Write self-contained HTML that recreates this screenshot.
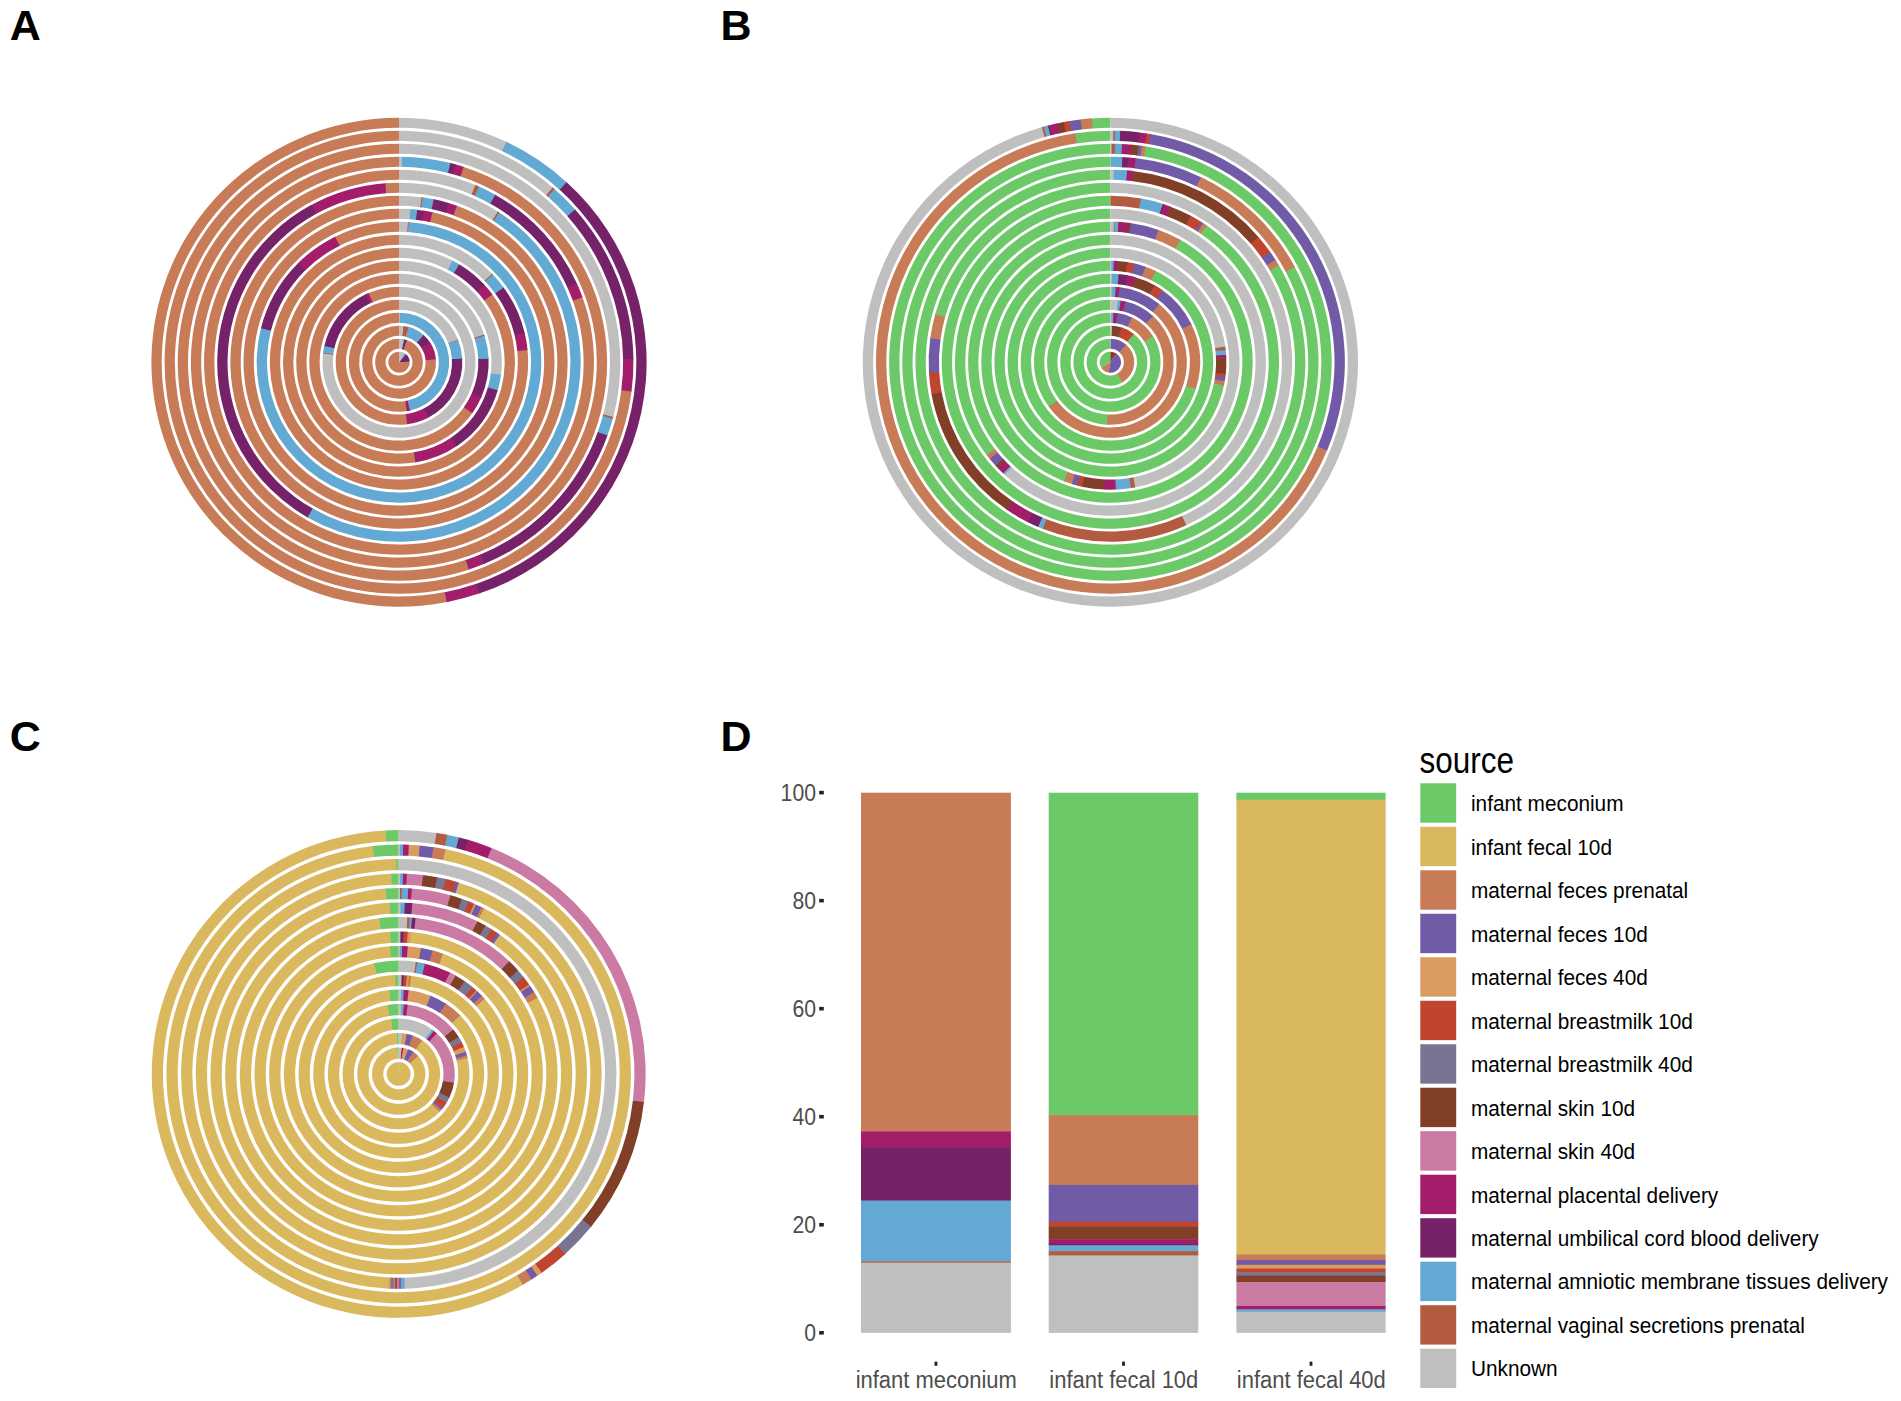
<!DOCTYPE html>
<html><head><meta charset="utf-8"><title>Figure</title>
<style>html,body{margin:0;padding:0;background:#fff}svg{display:block}</style></head>
<body><svg width="1901" height="1401" viewBox="0 0 1901 1401">
<rect width="1901" height="1401" fill="#fff"/>
<g transform="translate(399.0,362.2) scale(1.0125,1)">
<path d="M10.54,-0.46A10.55,10.55 0 1 1 -0.00,-10.55L0,0Z" fill="#c87b57" fill-rule="evenodd"/>
<path d="M6.71,-8.14A10.55,10.55 0 0 1 10.54,-0.37L0,0Z" fill="#762268" fill-rule="evenodd"/>
<path d="M5.20,-9.18A10.55,10.55 0 0 1 6.78,-8.08L0,0Z" fill="#62aad3" fill-rule="evenodd"/>
<path d="M0.00,-10.55A10.55,10.55 0 0 1 5.27,-9.14L0,0Z" fill="#bfbfbf" fill-rule="evenodd"/>
<path d="M7.74,-22.24A23.55,23.55 0 1 1 -0.00,-23.55L-0.00,-13.35A13.35,13.35 0 1 0 4.39,-12.61Z" fill="#c87b57" fill-rule="evenodd"/>
<path d="M4.90,-23.04A23.55,23.55 0 0 1 7.94,-22.17L4.50,-12.57A13.35,13.35 0 0 0 2.78,-13.06Z" fill="#762268" fill-rule="evenodd"/>
<path d="M4.13,-23.19A23.55,23.55 0 0 1 5.10,-22.99L2.89,-13.03A13.35,13.35 0 0 0 2.34,-13.14Z" fill="#62aad3" fill-rule="evenodd"/>
<path d="M0.00,-23.55A23.55,23.55 0 0 1 4.33,-23.15L2.46,-13.12A13.35,13.35 0 0 0 0.00,-13.35Z" fill="#bfbfbf" fill-rule="evenodd"/>
<path d="M36.43,-2.99A36.55,36.55 0 1 1 -0.00,-36.55L-0.00,-26.35A26.35,26.35 0 1 0 26.26,-2.16Z" fill="#c87b57" fill-rule="evenodd"/>
<path d="M30.86,-19.58A36.55,36.55 0 0 1 36.45,-2.68L26.28,-1.93A26.35,26.35 0 0 0 22.25,-14.12Z" fill="#a31d6a" fill-rule="evenodd"/>
<path d="M24.08,-27.50A36.55,36.55 0 0 1 31.03,-19.31L22.37,-13.92A26.35,26.35 0 0 0 17.36,-19.83Z" fill="#762268" fill-rule="evenodd"/>
<path d="M9.09,-35.40A36.55,36.55 0 0 1 24.31,-27.29L17.53,-19.67A26.35,26.35 0 0 0 6.55,-25.52Z" fill="#62aad3" fill-rule="evenodd"/>
<path d="M4.07,-36.32A36.55,36.55 0 0 1 9.40,-35.32L6.78,-25.46A26.35,26.35 0 0 0 2.94,-26.19Z" fill="#b25b40" fill-rule="evenodd"/>
<path d="M0.00,-36.55A36.55,36.55 0 0 1 4.39,-36.29L3.17,-26.16A26.35,26.35 0 0 0 0.00,-26.35Z" fill="#bfbfbf" fill-rule="evenodd"/>
<path d="M8.09,48.88A49.55,49.55 0 1 1 -0.00,-49.55L-0.00,-39.35A39.35,39.35 0 1 0 6.43,38.82Z" fill="#c87b57" fill-rule="evenodd"/>
<path d="M11.31,48.24A49.55,49.55 0 0 1 7.67,48.95L6.09,38.88A39.35,39.35 0 0 0 8.99,38.31Z" fill="#a31d6a" fill-rule="evenodd"/>
<path d="M0.26,-49.55A49.55,49.55 0 0 1 10.89,48.34L8.65,38.39A39.35,39.35 0 0 0 0.21,-39.35Z" fill="#62aad3" fill-rule="evenodd"/>
<path d="M0.00,-49.55A49.55,49.55 0 0 1 0.69,-49.55L0.55,-39.35A39.35,39.35 0 0 0 0.00,-39.35Z" fill="#bfbfbf" fill-rule="evenodd"/>
<path d="M8.60,61.96A62.55,62.55 0 1 1 -0.00,-62.55L-0.00,-52.35A52.35,52.35 0 1 0 7.20,51.85Z" fill="#c87b57" fill-rule="evenodd"/>
<path d="M29.75,55.02A62.55,62.55 0 0 1 8.06,62.03L6.74,51.91A52.35,52.35 0 0 0 24.90,46.05Z" fill="#a31d6a" fill-rule="evenodd"/>
<path d="M62.41,-4.25A62.55,62.55 0 0 1 29.27,55.28L24.50,46.27A52.35,52.35 0 0 0 52.23,-3.56Z" fill="#762268" fill-rule="evenodd"/>
<path d="M58.24,-22.82A62.55,62.55 0 0 1 62.44,-3.71L52.26,-3.10A52.35,52.35 0 0 0 48.74,-19.10Z" fill="#62aad3" fill-rule="evenodd"/>
<path d="M58.04,-23.33A62.55,62.55 0 0 1 58.43,-22.31L48.91,-18.68A52.35,52.35 0 0 0 48.57,-19.53Z" fill="#b25b40" fill-rule="evenodd"/>
<path d="M0.00,-62.55A62.55,62.55 0 0 1 58.24,-22.82L48.74,-19.10A52.35,52.35 0 0 0 0.00,-52.35Z" fill="#bfbfbf" fill-rule="evenodd"/>
<path d="M-30.71,-69.02A75.55,75.55 0 0 1 -0.00,-75.55L-0.00,-65.35A65.35,65.35 0 0 0 -26.57,-59.71Z" fill="#c87b57" fill-rule="evenodd"/>
<path d="M-33.46,-67.74A75.55,75.55 0 0 1 -30.13,-69.28L-26.06,-59.93A65.35,65.35 0 0 0 -28.94,-58.59Z" fill="#a31d6a" fill-rule="evenodd"/>
<path d="M-73.95,-15.47A75.55,75.55 0 0 1 -32.88,-68.02L-28.44,-58.84A65.35,65.35 0 0 0 -63.97,-13.38Z" fill="#762268" fill-rule="evenodd"/>
<path d="M-75.03,-8.83A75.55,75.55 0 0 1 -73.82,-16.09L-63.85,-13.92A65.35,65.35 0 0 0 -64.90,-7.64Z" fill="#62aad3" fill-rule="evenodd"/>
<path d="M-75.12,-8.04A75.55,75.55 0 0 1 -74.95,-9.47L-64.83,-8.19A65.35,65.35 0 0 0 -64.98,-6.96Z" fill="#b25b40" fill-rule="evenodd"/>
<path d="M0.00,-75.55A75.55,75.55 0 1 1 -75.05,-8.68L-64.92,-7.51A65.35,65.35 0 1 0 0.00,-65.35Z" fill="#bfbfbf" fill-rule="evenodd"/>
<path d="M72.72,50.52A88.55,88.55 0 1 1 -0.00,-88.55L-0.00,-78.35A78.35,78.35 0 1 0 64.35,44.70Z" fill="#c87b57" fill-rule="evenodd"/>
<path d="M81.46,34.72A88.55,88.55 0 0 1 72.36,51.04L64.02,45.16A78.35,78.35 0 0 0 72.07,30.72Z" fill="#a31d6a" fill-rule="evenodd"/>
<path d="M88.45,-4.19A88.55,88.55 0 0 1 81.21,35.31L71.85,31.24A78.35,78.35 0 0 0 78.26,-3.71Z" fill="#762268" fill-rule="evenodd"/>
<path d="M84.31,-27.09A88.55,88.55 0 0 1 88.48,-3.55L78.29,-3.14A78.35,78.35 0 0 0 74.59,-23.97Z" fill="#62aad3" fill-rule="evenodd"/>
<path d="M83.92,-28.26A88.55,88.55 0 0 1 84.50,-26.48L74.76,-23.43A78.35,78.35 0 0 0 74.25,-25.01Z" fill="#b25b40" fill-rule="evenodd"/>
<path d="M0.00,-88.55A88.55,88.55 0 0 1 84.12,-27.66L74.43,-24.47A78.35,78.35 0 0 0 0.00,-78.35Z" fill="#bfbfbf" fill-rule="evenodd"/>
<path d="M16.86,100.14A101.55,101.55 0 1 1 -0.00,-101.55L-0.00,-91.35A91.35,91.35 0 1 0 15.17,90.08Z" fill="#c87b57" fill-rule="evenodd"/>
<path d="M57.60,83.63A101.55,101.55 0 0 1 16.24,100.24L14.61,90.17A91.35,91.35 0 0 0 51.82,75.23Z" fill="#a31d6a" fill-rule="evenodd"/>
<path d="M97.79,27.38A101.55,101.55 0 0 1 57.08,83.99L51.35,75.55A91.35,91.35 0 0 0 87.97,24.63Z" fill="#762268" fill-rule="evenodd"/>
<path d="M100.85,11.92A101.55,101.55 0 0 1 97.62,27.99L87.81,25.18A91.35,91.35 0 0 0 90.72,10.73Z" fill="#62aad3" fill-rule="evenodd"/>
<path d="M0.00,-101.55A101.55,101.55 0 0 1 100.77,12.55L90.65,11.29A91.35,91.35 0 0 0 0.00,-91.35Z" fill="#bfbfbf" fill-rule="evenodd"/>
<path d="M91.95,-68.32A114.55,114.55 0 1 1 -0.00,-114.55L-0.00,-104.35A104.35,104.35 0 1 0 83.76,-62.24Z" fill="#c87b57" fill-rule="evenodd"/>
<path d="M84.30,-77.56A114.55,114.55 0 0 1 92.32,-67.82L84.10,-61.78A104.35,104.35 0 0 0 76.79,-70.65Z" fill="#a31d6a" fill-rule="evenodd"/>
<path d="M58.97,-98.20A114.55,114.55 0 0 1 84.72,-77.09L77.18,-70.23A104.35,104.35 0 0 0 53.72,-89.46Z" fill="#762268" fill-rule="evenodd"/>
<path d="M52.34,-101.90A114.55,114.55 0 0 1 59.51,-97.88L54.21,-89.16A104.35,104.35 0 0 0 47.68,-92.82Z" fill="#62aad3" fill-rule="evenodd"/>
<path d="M0.00,-114.55A114.55,114.55 0 0 1 52.89,-101.61L48.18,-92.56A104.35,104.35 0 0 0 0.00,-104.35Z" fill="#bfbfbf" fill-rule="evenodd"/>
<path d="M126.90,-12.85A127.55,127.55 0 1 1 -0.00,-127.55L-0.00,-117.35A117.35,117.35 0 1 0 116.75,-11.82Z" fill="#c87b57" fill-rule="evenodd"/>
<path d="M123.93,-30.17A127.55,127.55 0 0 1 126.96,-12.23L116.81,-11.25A117.35,117.35 0 0 0 114.02,-27.75Z" fill="#a31d6a" fill-rule="evenodd"/>
<path d="M102.95,-75.30A127.55,127.55 0 0 1 124.08,-29.56L114.16,-27.20A117.35,117.35 0 0 0 94.72,-69.28Z" fill="#762268" fill-rule="evenodd"/>
<path d="M92.24,-88.09A127.55,127.55 0 0 1 103.32,-74.79L95.06,-68.81A117.35,117.35 0 0 0 84.87,-81.05Z" fill="#62aad3" fill-rule="evenodd"/>
<path d="M91.47,-88.89A127.55,127.55 0 0 1 92.67,-87.64L85.26,-80.63A117.35,117.35 0 0 0 84.16,-81.78Z" fill="#b25b40" fill-rule="evenodd"/>
<path d="M0.00,-127.55A127.55,127.55 0 0 1 91.91,-88.44L84.56,-81.37A117.35,117.35 0 0 0 0.00,-117.35Z" fill="#bfbfbf" fill-rule="evenodd"/>
<path d="M-63.71,-125.28A140.55,140.55 0 0 1 -0.00,-140.55L-0.00,-130.35A130.35,130.35 0 0 0 -59.08,-116.19Z" fill="#c87b57" fill-rule="evenodd"/>
<path d="M-100.17,-98.59A140.55,140.55 0 0 1 -63.15,-125.56L-58.57,-116.45A130.35,130.35 0 0 0 -92.90,-91.44Z" fill="#a31d6a" fill-rule="evenodd"/>
<path d="M-136.52,-33.40A140.55,140.55 0 0 1 -99.73,-99.04L-92.49,-91.85A130.35,130.35 0 0 0 -126.62,-30.97Z" fill="#762268" fill-rule="evenodd"/>
<path d="M8.94,-140.27A140.55,140.55 0 1 1 -136.38,-34.00L-126.48,-31.53A130.35,130.35 0 1 0 8.29,-130.09Z" fill="#62aad3" fill-rule="evenodd"/>
<path d="M8.20,-140.31A140.55,140.55 0 0 1 9.56,-140.22L8.87,-130.05A130.35,130.35 0 0 0 7.61,-130.13Z" fill="#b25b40" fill-rule="evenodd"/>
<path d="M0.00,-140.55A140.55,140.55 0 0 1 8.83,-140.27L8.18,-130.09A130.35,130.35 0 0 0 0.00,-130.35Z" fill="#bfbfbf" fill-rule="evenodd"/>
<path d="M32.37,-150.10A153.55,153.55 0 1 1 -0.00,-153.55L-0.00,-143.35A143.35,143.35 0 1 0 30.22,-140.13Z" fill="#c87b57" fill-rule="evenodd"/>
<path d="M23.94,-151.67A153.55,153.55 0 0 1 32.97,-149.97L30.78,-140.01A143.35,143.35 0 0 0 22.35,-141.60Z" fill="#a31d6a" fill-rule="evenodd"/>
<path d="M17.30,-152.57A153.55,153.55 0 0 1 24.55,-151.57L22.92,-141.51A143.35,143.35 0 0 0 16.15,-142.44Z" fill="#762268" fill-rule="evenodd"/>
<path d="M10.63,-153.18A153.55,153.55 0 0 1 17.91,-152.50L16.72,-142.37A143.35,143.35 0 0 0 9.92,-143.01Z" fill="#62aad3" fill-rule="evenodd"/>
<path d="M0.00,-153.55A153.55,153.55 0 0 1 11.25,-153.14L10.50,-142.97A143.35,143.35 0 0 0 0.00,-143.35Z" fill="#bfbfbf" fill-rule="evenodd"/>
<path d="M56.65,-156.62A166.55,166.55 0 1 1 -0.00,-166.55L-0.00,-156.35A156.35,156.35 0 1 0 53.19,-147.03Z" fill="#c87b57" fill-rule="evenodd"/>
<path d="M48.38,-159.37A166.55,166.55 0 0 1 57.24,-156.41L53.73,-146.83A156.35,156.35 0 0 0 45.42,-149.61Z" fill="#a31d6a" fill-rule="evenodd"/>
<path d="M33.74,-163.10A166.55,166.55 0 0 1 48.97,-159.19L45.97,-149.44A156.35,156.35 0 0 0 31.67,-153.11Z" fill="#762268" fill-rule="evenodd"/>
<path d="M22.85,-164.97A166.55,166.55 0 0 1 34.34,-162.97L32.24,-152.99A156.35,156.35 0 0 0 21.45,-154.87Z" fill="#62aad3" fill-rule="evenodd"/>
<path d="M21.70,-165.13A166.55,166.55 0 0 1 23.47,-164.89L22.03,-154.79A156.35,156.35 0 0 0 20.37,-155.02Z" fill="#b25b40" fill-rule="evenodd"/>
<path d="M0.00,-166.55A166.55,166.55 0 0 1 22.32,-165.05L20.95,-154.94A156.35,156.35 0 0 0 0.00,-156.35Z" fill="#bfbfbf" fill-rule="evenodd"/>
<path d="M-14.08,-179.00A179.55,179.55 0 0 1 -0.00,-179.55L-0.00,-169.35A169.35,169.35 0 0 0 -13.28,-168.83Z" fill="#c87b57" fill-rule="evenodd"/>
<path d="M-87.04,-157.04A179.55,179.55 0 0 1 -13.46,-179.04L-12.70,-168.87A169.35,169.35 0 0 0 -82.09,-148.12Z" fill="#a31d6a" fill-rule="evenodd"/>
<path d="M-89.78,155.49A179.55,179.55 0 0 1 -86.50,-157.34L-81.58,-148.40A169.35,169.35 0 0 0 -84.68,146.66Z" fill="#762268" fill-rule="evenodd"/>
<path d="M98.58,-150.06A179.55,179.55 0 0 1 -90.32,155.18L-85.19,146.36A169.35,169.35 0 0 0 92.98,-141.54Z" fill="#62aad3" fill-rule="evenodd"/>
<path d="M97.27,-150.92A179.55,179.55 0 0 1 99.10,-149.72L93.47,-141.22A169.35,169.35 0 0 0 91.75,-142.35Z" fill="#b25b40" fill-rule="evenodd"/>
<path d="M0.00,-179.55A179.55,179.55 0 0 1 97.79,-150.58L92.23,-142.03A169.35,169.35 0 0 0 0.00,-169.35Z" fill="#bfbfbf" fill-rule="evenodd"/>
<path d="M181.07,-65.49A192.55,192.55 0 1 1 -0.00,-192.55L-0.00,-182.35A182.35,182.35 0 1 0 171.48,-62.02Z" fill="#c87b57" fill-rule="evenodd"/>
<path d="M175.51,-79.19A192.55,192.55 0 0 1 181.28,-64.91L171.68,-61.47A182.35,182.35 0 0 0 166.22,-74.99Z" fill="#a31d6a" fill-rule="evenodd"/>
<path d="M94.57,-167.72A192.55,192.55 0 0 1 175.77,-78.62L166.46,-74.46A182.35,182.35 0 0 0 89.56,-158.84Z" fill="#762268" fill-rule="evenodd"/>
<path d="M78.37,-175.88A192.55,192.55 0 0 1 95.11,-167.42L90.07,-158.55A182.35,182.35 0 0 0 74.22,-166.56Z" fill="#62aad3" fill-rule="evenodd"/>
<path d="M74.98,-177.35A192.55,192.55 0 0 1 78.93,-175.63L74.75,-166.33A182.35,182.35 0 0 0 71.01,-167.96Z" fill="#b25b40" fill-rule="evenodd"/>
<path d="M0.00,-192.55A192.55,192.55 0 0 1 75.54,-177.11L71.54,-167.73A182.35,182.35 0 0 0 0.00,-182.35Z" fill="#bfbfbf" fill-rule="evenodd"/>
<path d="M63.27,-195.57A205.55,205.55 0 1 1 -0.00,-205.55L-0.00,-195.35A195.35,195.35 0 1 0 60.13,-185.86Z" fill="#c87b57" fill-rule="evenodd"/>
<path d="M55.37,-197.95A205.55,205.55 0 0 1 63.86,-195.38L60.69,-185.68A195.35,195.35 0 0 0 52.63,-188.13Z" fill="#a31d6a" fill-rule="evenodd"/>
<path d="M50.17,-199.33A205.55,205.55 0 0 1 55.97,-197.78L53.19,-187.97A195.35,195.35 0 0 0 47.68,-189.44Z" fill="#762268" fill-rule="evenodd"/>
<path d="M2.25,-205.54A205.55,205.55 0 0 1 50.77,-199.18L48.25,-189.30A195.35,195.35 0 0 0 2.14,-195.34Z" fill="#62aad3" fill-rule="evenodd"/>
<path d="M0.00,-205.55A205.55,205.55 0 0 1 2.87,-205.53L2.73,-195.33A195.35,195.35 0 0 0 0.00,-195.35Z" fill="#bfbfbf" fill-rule="evenodd"/>
<path d="M69.57,207.18A218.55,218.55 0 1 1 -0.00,-218.55L-0.00,-208.35A208.35,208.35 0 1 0 66.32,197.51Z" fill="#c87b57" fill-rule="evenodd"/>
<path d="M84.91,201.38A218.55,218.55 0 0 1 68.99,207.38L65.77,197.70A208.35,208.35 0 0 0 80.94,191.98Z" fill="#a31d6a" fill-rule="evenodd"/>
<path d="M206.09,72.73A218.55,218.55 0 0 1 84.34,201.62L80.40,192.21A208.35,208.35 0 0 0 196.47,69.34Z" fill="#762268" fill-rule="evenodd"/>
<path d="M211.26,55.97A218.55,218.55 0 0 1 205.89,73.31L196.28,69.89A208.35,208.35 0 0 0 201.40,53.36Z" fill="#62aad3" fill-rule="evenodd"/>
<path d="M211.74,54.13A218.55,218.55 0 0 1 211.10,56.56L201.25,53.92A208.35,208.35 0 0 0 201.86,51.60Z" fill="#b25b40" fill-rule="evenodd"/>
<path d="M0.00,-218.55A218.55,218.55 0 0 1 211.59,54.72L201.71,52.17A208.35,208.35 0 0 0 0.00,-208.35Z" fill="#bfbfbf" fill-rule="evenodd"/>
<path d="M229.75,28.81A231.55,231.55 0 1 1 -0.00,-231.55L-0.00,-221.35A221.35,221.35 0 1 0 219.63,27.54Z" fill="#c87b57" fill-rule="evenodd"/>
<path d="M231.52,-3.85A231.55,231.55 0 0 1 229.67,29.42L219.56,28.13A221.35,221.35 0 0 0 221.32,-3.68Z" fill="#a31d6a" fill-rule="evenodd"/>
<path d="M173.55,-153.28A231.55,231.55 0 0 1 231.53,-3.23L221.33,-3.09A221.35,221.35 0 0 0 165.90,-146.53Z" fill="#762268" fill-rule="evenodd"/>
<path d="M153.27,-173.56A231.55,231.55 0 0 1 173.96,-152.82L166.29,-146.09A221.35,221.35 0 0 0 146.52,-165.91Z" fill="#62aad3" fill-rule="evenodd"/>
<path d="M151.45,-175.15A231.55,231.55 0 0 1 153.73,-173.15L146.96,-165.53A221.35,221.35 0 0 0 144.78,-167.44Z" fill="#b25b40" fill-rule="evenodd"/>
<path d="M0.00,-231.55A231.55,231.55 0 0 1 151.91,-174.75L145.22,-167.05A221.35,221.35 0 0 0 0.00,-221.35Z" fill="#bfbfbf" fill-rule="evenodd"/>
<path d="M47.68,239.86A244.55,244.55 0 1 1 -0.00,-244.55L-0.00,-234.35A234.35,234.35 0 1 0 45.69,229.85Z" fill="#c87b57" fill-rule="evenodd"/>
<path d="M79.79,231.17A244.55,244.55 0 0 1 47.08,239.98L45.12,229.97A234.35,234.35 0 0 0 76.47,221.52Z" fill="#a31d6a" fill-rule="evenodd"/>
<path d="M165.08,-180.43A244.55,244.55 0 0 1 79.21,231.37L75.91,221.72A234.35,234.35 0 0 0 158.19,-172.90Z" fill="#762268" fill-rule="evenodd"/>
<path d="M105.50,-220.62A244.55,244.55 0 0 1 165.53,-180.01L158.63,-172.50A234.35,234.35 0 0 0 101.10,-211.42Z" fill="#62aad3" fill-rule="evenodd"/>
<path d="M0.00,-244.55A244.55,244.55 0 0 1 106.05,-220.36L101.63,-211.17A234.35,234.35 0 0 0 0.00,-234.35Z" fill="#bfbfbf" fill-rule="evenodd"/>
</g>
<g transform="translate(1110.4,362.2) scale(1.0125,1)">
<path d="M-9.09,5.35A10.55,10.55 0 0 1 -0.00,-10.55L0,0Z" fill="#6bc967" fill-rule="evenodd"/>
<path d="M-1.74,10.41A10.55,10.55 0 0 1 -9.14,5.28L0,0Z" fill="#c87b57" fill-rule="evenodd"/>
<path d="M5.98,-8.69A10.55,10.55 0 0 1 -1.83,10.39L0,0Z" fill="#715ba6" fill-rule="evenodd"/>
<path d="M0.00,-10.55A10.55,10.55 0 0 1 6.05,-8.64L0,0Z" fill="#823f28" fill-rule="evenodd"/>
<path d="M11.74,20.42A23.55,23.55 0 1 1 -0.00,-23.55L-0.00,-13.35A13.35,13.35 0 1 0 6.65,11.57Z" fill="#6bc967" fill-rule="evenodd"/>
<path d="M15.54,-17.69A23.55,23.55 0 0 1 11.56,20.52L6.55,11.63A13.35,13.35 0 0 0 8.81,-10.03Z" fill="#c87b57" fill-rule="evenodd"/>
<path d="M0.21,-23.55A23.55,23.55 0 0 1 15.70,-17.56L8.90,-9.95A13.35,13.35 0 0 0 0.12,-13.35Z" fill="#715ba6" fill-rule="evenodd"/>
<path d="M0.00,-23.55A23.55,23.55 0 0 1 0.41,-23.55L0.23,-13.35A13.35,13.35 0 0 0 0.00,-13.35Z" fill="#bfbfbf" fill-rule="evenodd"/>
<path d="M22.90,-28.48A36.55,36.55 0 1 1 -0.00,-36.55L-0.00,-26.35A26.35,26.35 0 1 0 16.51,-20.54Z" fill="#6bc967" fill-rule="evenodd"/>
<path d="M10.99,-34.86A36.55,36.55 0 0 1 23.15,-28.28L16.69,-20.39A26.35,26.35 0 0 0 7.92,-25.13Z" fill="#c0452e" fill-rule="evenodd"/>
<path d="M1.15,-36.53A36.55,36.55 0 0 1 11.29,-34.76L8.14,-25.06A26.35,26.35 0 0 0 0.83,-26.34Z" fill="#823f28" fill-rule="evenodd"/>
<path d="M0.00,-36.55A36.55,36.55 0 0 1 1.47,-36.52L1.06,-26.33A26.35,26.35 0 0 0 0.00,-26.35Z" fill="#bfbfbf" fill-rule="evenodd"/>
<path d="M41.93,-26.40A49.55,49.55 0 1 1 -0.00,-49.55L-0.00,-39.35A39.35,39.35 0 1 0 33.30,-20.97Z" fill="#6bc967" fill-rule="evenodd"/>
<path d="M20.94,-44.91A49.55,49.55 0 0 1 42.16,-26.04L33.48,-20.68A39.35,39.35 0 0 0 16.63,-35.66Z" fill="#c87b57" fill-rule="evenodd"/>
<path d="M6.72,-49.09A49.55,49.55 0 0 1 21.33,-44.72L16.94,-35.52A39.35,39.35 0 0 0 5.34,-38.99Z" fill="#715ba6" fill-rule="evenodd"/>
<path d="M2.68,-49.48A49.55,49.55 0 0 1 7.15,-49.03L5.68,-38.94A39.35,39.35 0 0 0 2.13,-39.29Z" fill="#a31d6a" fill-rule="evenodd"/>
<path d="M0.43,-49.55A49.55,49.55 0 0 1 3.11,-49.45L2.47,-39.27A39.35,39.35 0 0 0 0.34,-39.35Z" fill="#62aad3" fill-rule="evenodd"/>
<path d="M0.00,-49.55A49.55,49.55 0 0 1 0.86,-49.54L0.69,-39.34A39.35,39.35 0 0 0 0.00,-39.35Z" fill="#bfbfbf" fill-rule="evenodd"/>
<path d="M-2.95,62.48A62.55,62.55 0 0 1 -0.00,-62.55L-0.00,-52.35A52.35,52.35 0 0 0 -2.47,52.29Z" fill="#6bc967" fill-rule="evenodd"/>
<path d="M41.69,-46.63A62.55,62.55 0 0 1 -3.49,62.45L-2.92,52.27A52.35,52.35 0 0 0 34.89,-39.03Z" fill="#c87b57" fill-rule="evenodd"/>
<path d="M14.39,-60.87A62.55,62.55 0 0 1 42.10,-46.26L35.23,-38.72A52.35,52.35 0 0 0 12.04,-50.95Z" fill="#715ba6" fill-rule="evenodd"/>
<path d="M9.68,-61.80A62.55,62.55 0 0 1 14.92,-60.74L12.49,-50.84A52.35,52.35 0 0 0 8.10,-51.72Z" fill="#a31d6a" fill-rule="evenodd"/>
<path d="M6.97,-62.16A62.55,62.55 0 0 1 10.22,-61.71L8.55,-51.65A52.35,52.35 0 0 0 5.84,-52.02Z" fill="#62aad3" fill-rule="evenodd"/>
<path d="M0.00,-62.55A62.55,62.55 0 0 1 7.51,-62.10L6.29,-51.97A52.35,52.35 0 0 0 0.00,-52.35Z" fill="#bfbfbf" fill-rule="evenodd"/>
<path d="M-60.58,45.14A75.55,75.55 0 0 1 -0.00,-75.55L-0.00,-65.35A65.35,65.35 0 0 0 -52.40,39.04Z" fill="#6bc967" fill-rule="evenodd"/>
<path d="M47.76,-58.54A75.55,75.55 0 1 1 -60.97,44.62L-52.73,38.60A65.35,65.35 0 1 0 41.31,-50.63Z" fill="#c87b57" fill-rule="evenodd"/>
<path d="M8.44,-75.08A75.55,75.55 0 0 1 48.26,-58.13L41.74,-50.28A65.35,65.35 0 0 0 7.30,-64.94Z" fill="#715ba6" fill-rule="evenodd"/>
<path d="M4.63,-75.41A75.55,75.55 0 0 1 9.08,-75.00L7.85,-64.88A65.35,65.35 0 0 0 4.00,-65.23Z" fill="#a31d6a" fill-rule="evenodd"/>
<path d="M0.68,-75.55A75.55,75.55 0 0 1 5.27,-75.37L4.56,-65.19A65.35,65.35 0 0 0 0.58,-65.35Z" fill="#62aad3" fill-rule="evenodd"/>
<path d="M0.00,-75.55A75.55,75.55 0 0 1 1.32,-75.54L1.14,-65.34A65.35,65.35 0 0 0 0.00,-65.35Z" fill="#bfbfbf" fill-rule="evenodd"/>
<path d="M84.69,25.87A88.55,88.55 0 1 1 -0.00,-88.55L-0.00,-78.35A78.35,78.35 0 1 0 74.93,22.89Z" fill="#6bc967" fill-rule="evenodd"/>
<path d="M79.78,-38.42A88.55,88.55 0 0 1 84.50,26.48L74.76,23.43A78.35,78.35 0 0 0 70.59,-33.99Z" fill="#c87b57" fill-rule="evenodd"/>
<path d="M50.90,-72.46A88.55,88.55 0 0 1 80.06,-37.84L70.83,-33.48A78.35,78.35 0 0 0 45.04,-64.11Z" fill="#715ba6" fill-rule="evenodd"/>
<path d="M43.05,-77.38A88.55,88.55 0 0 1 51.42,-72.09L45.50,-63.79A78.35,78.35 0 0 0 38.09,-68.47Z" fill="#c0452e" fill-rule="evenodd"/>
<path d="M23.80,-85.29A88.55,88.55 0 0 1 43.60,-77.07L38.58,-68.19A78.35,78.35 0 0 0 21.05,-75.47Z" fill="#823f28" fill-rule="evenodd"/>
<path d="M16.42,-87.01A88.55,88.55 0 0 1 24.41,-85.12L21.60,-75.31A78.35,78.35 0 0 0 14.53,-76.99Z" fill="#a31d6a" fill-rule="evenodd"/>
<path d="M7.55,-88.23A88.55,88.55 0 0 1 17.05,-86.89L15.08,-76.88A78.35,78.35 0 0 0 6.68,-78.07Z" fill="#762268" fill-rule="evenodd"/>
<path d="M0.75,-88.55A88.55,88.55 0 0 1 8.18,-88.17L7.24,-78.02A78.35,78.35 0 0 0 0.67,-78.35Z" fill="#62aad3" fill-rule="evenodd"/>
<path d="M0.00,-88.55A88.55,88.55 0 0 1 1.39,-88.54L1.23,-78.34A78.35,78.35 0 0 0 0.00,-78.35Z" fill="#bfbfbf" fill-rule="evenodd"/>
<path d="M44.27,-91.39A101.55,101.55 0 1 1 -0.00,-101.55L-0.00,-91.35A91.35,91.35 0 1 0 39.82,-82.21Z" fill="#6bc967" fill-rule="evenodd"/>
<path d="M34.14,-95.64A101.55,101.55 0 0 1 44.83,-91.12L40.33,-81.96A91.35,91.35 0 0 0 30.71,-86.03Z" fill="#c87b57" fill-rule="evenodd"/>
<path d="M23.09,-98.89A101.55,101.55 0 0 1 34.73,-95.43L31.24,-85.84A91.35,91.35 0 0 0 20.77,-88.96Z" fill="#715ba6" fill-rule="evenodd"/>
<path d="M16.31,-100.23A101.55,101.55 0 0 1 23.71,-98.74L21.33,-88.83A91.35,91.35 0 0 0 14.67,-90.16Z" fill="#c0452e" fill-rule="evenodd"/>
<path d="M6.98,-101.31A101.55,101.55 0 0 1 16.94,-100.13L15.23,-90.07A91.35,91.35 0 0 0 6.28,-91.13Z" fill="#823f28" fill-rule="evenodd"/>
<path d="M2.74,-101.51A101.55,101.55 0 0 1 7.61,-101.26L6.85,-91.09A91.35,91.35 0 0 0 2.46,-91.32Z" fill="#a31d6a" fill-rule="evenodd"/>
<path d="M0.25,-101.55A101.55,101.55 0 0 1 3.37,-101.49L3.03,-91.30A91.35,91.35 0 0 0 0.23,-91.35Z" fill="#62aad3" fill-rule="evenodd"/>
<path d="M0.00,-101.55A101.55,101.55 0 0 1 0.89,-101.55L0.80,-91.35A91.35,91.35 0 0 0 0.00,-91.35Z" fill="#bfbfbf" fill-rule="evenodd"/>
<path d="M112.26,22.81A114.55,114.55 0 1 1 -0.00,-114.55L-0.00,-104.35A104.35,104.35 0 1 0 102.26,20.78Z" fill="#6bc967" fill-rule="evenodd"/>
<path d="M113.05,18.48A114.55,114.55 0 0 1 112.13,23.43L102.14,21.34A104.35,104.35 0 0 0 102.98,16.84Z" fill="#c87b57" fill-rule="evenodd"/>
<path d="M113.63,14.53A114.55,114.55 0 0 1 112.95,19.10L102.89,17.40A104.35,104.35 0 0 0 103.51,13.23Z" fill="#715ba6" fill-rule="evenodd"/>
<path d="M114.01,11.15A114.55,114.55 0 0 1 113.54,15.15L103.43,13.80A104.35,104.35 0 0 0 103.85,10.16Z" fill="#c0452e" fill-rule="evenodd"/>
<path d="M114.43,-5.22A114.55,114.55 0 0 1 113.94,11.77L103.80,10.73A104.35,104.35 0 0 0 104.24,-4.76Z" fill="#823f28" fill-rule="evenodd"/>
<path d="M114.27,-8.02A114.55,114.55 0 0 1 114.46,-4.60L104.27,-4.19A104.35,104.35 0 0 0 104.09,-7.30Z" fill="#a31d6a" fill-rule="evenodd"/>
<path d="M113.83,-12.80A114.55,114.55 0 0 1 114.31,-7.39L104.13,-6.73A104.35,104.35 0 0 0 103.70,-11.66Z" fill="#62aad3" fill-rule="evenodd"/>
<path d="M113.40,-16.17A114.55,114.55 0 0 1 113.90,-12.17L103.76,-11.09A104.35,104.35 0 0 0 103.31,-14.73Z" fill="#b25b40" fill-rule="evenodd"/>
<path d="M0.00,-114.55A114.55,114.55 0 0 1 113.49,-15.55L103.38,-14.16A104.35,104.35 0 0 0 0.00,-104.35Z" fill="#bfbfbf" fill-rule="evenodd"/>
<path d="M-45.33,119.22A127.55,127.55 0 0 1 -0.00,-127.55L-0.00,-117.35A117.35,117.35 0 0 0 -41.71,109.69Z" fill="#6bc967" fill-rule="evenodd"/>
<path d="M-37.55,121.90A127.55,127.55 0 0 1 -45.92,119.00L-42.25,109.48A117.35,117.35 0 0 0 -34.54,112.15Z" fill="#c87b57" fill-rule="evenodd"/>
<path d="M-32.19,123.42A127.55,127.55 0 0 1 -38.14,121.71L-35.09,111.98A117.35,117.35 0 0 0 -29.62,113.55Z" fill="#715ba6" fill-rule="evenodd"/>
<path d="M-27.43,124.57A127.55,127.55 0 0 1 -32.80,123.26L-30.17,113.40A117.35,117.35 0 0 0 -25.24,114.60Z" fill="#c0452e" fill-rule="evenodd"/>
<path d="M-5.83,127.42A127.55,127.55 0 0 1 -28.04,124.43L-25.80,114.48A117.35,117.35 0 0 0 -5.36,117.23Z" fill="#823f28" fill-rule="evenodd"/>
<path d="M5.97,127.41A127.55,127.55 0 0 1 -6.45,127.39L-5.94,117.20A117.35,117.35 0 0 0 5.49,117.22Z" fill="#a31d6a" fill-rule="evenodd"/>
<path d="M21.01,125.81A127.55,127.55 0 0 1 5.34,127.44L4.91,117.25A117.35,117.35 0 0 0 19.33,115.75Z" fill="#62aad3" fill-rule="evenodd"/>
<path d="M25.17,125.04A127.55,127.55 0 0 1 20.39,125.91L18.76,115.84A117.35,117.35 0 0 0 23.16,115.04Z" fill="#b25b40" fill-rule="evenodd"/>
<path d="M0.00,-127.55A127.55,127.55 0 0 1 24.56,125.16L22.59,115.15A117.35,117.35 0 0 0 0.00,-117.35Z" fill="#bfbfbf" fill-rule="evenodd"/>
<path d="M68.67,-122.63A140.55,140.55 0 1 1 -0.00,-140.55L-0.00,-130.35A130.35,130.35 0 1 0 63.68,-113.73Z" fill="#6bc967" fill-rule="evenodd"/>
<path d="M47.02,-132.45A140.55,140.55 0 0 1 69.21,-122.33L64.19,-113.45A130.35,130.35 0 0 0 43.61,-122.84Z" fill="#c87b57" fill-rule="evenodd"/>
<path d="M19.67,-139.17A140.55,140.55 0 0 1 47.61,-132.24L44.15,-122.64A130.35,130.35 0 0 0 18.25,-129.07Z" fill="#715ba6" fill-rule="evenodd"/>
<path d="M17.48,-139.46A140.55,140.55 0 0 1 20.29,-139.08L18.82,-128.98A130.35,130.35 0 0 0 16.22,-129.34Z" fill="#823f28" fill-rule="evenodd"/>
<path d="M7.22,-140.36A140.55,140.55 0 0 1 18.10,-139.38L16.79,-129.26A130.35,130.35 0 0 0 6.70,-130.18Z" fill="#a31d6a" fill-rule="evenodd"/>
<path d="M3.55,-140.51A140.55,140.55 0 0 1 7.85,-140.33L7.28,-130.15A130.35,130.35 0 0 0 3.29,-130.31Z" fill="#62aad3" fill-rule="evenodd"/>
<path d="M2.81,-140.52A140.55,140.55 0 0 1 4.17,-140.49L3.87,-130.29A130.35,130.35 0 0 0 2.61,-130.32Z" fill="#b25b40" fill-rule="evenodd"/>
<path d="M0.00,-140.55A140.55,140.55 0 0 1 3.43,-140.51L3.18,-130.31A130.35,130.35 0 0 0 0.00,-130.35Z" fill="#bfbfbf" fill-rule="evenodd"/>
<path d="M-121.93,93.33A153.55,153.55 0 0 1 -0.00,-153.55L-0.00,-143.35A143.35,143.35 0 0 0 -113.83,87.13Z" fill="#6bc967" fill-rule="evenodd"/>
<path d="M-118.94,97.11A153.55,153.55 0 0 1 -122.31,92.84L-114.18,86.67A143.35,143.35 0 0 0 -111.04,90.66Z" fill="#c87b57" fill-rule="evenodd"/>
<path d="M-112.97,104.00A153.55,153.55 0 0 1 -119.33,96.63L-111.40,90.21A143.35,143.35 0 0 0 -105.47,97.09Z" fill="#715ba6" fill-rule="evenodd"/>
<path d="M-110.95,106.15A153.55,153.55 0 0 1 -113.39,103.54L-105.86,96.66A143.35,143.35 0 0 0 -103.58,99.10Z" fill="#823f28" fill-rule="evenodd"/>
<path d="M-105.44,111.62A153.55,153.55 0 0 1 -111.38,105.70L-103.98,98.68A143.35,143.35 0 0 0 -98.44,104.21Z" fill="#a31d6a" fill-rule="evenodd"/>
<path d="M-104.07,112.90A153.55,153.55 0 0 1 -105.89,111.20L-98.86,103.81A143.35,143.35 0 0 0 -97.16,105.40Z" fill="#62aad3" fill-rule="evenodd"/>
<path d="M0.00,-153.55A153.55,153.55 0 1 1 -104.52,112.48L-97.58,105.01A143.35,143.35 0 1 0 0.00,-143.35Z" fill="#bfbfbf" fill-rule="evenodd"/>
<path d="M94.54,-137.11A166.55,166.55 0 1 1 -0.00,-166.55L-0.00,-156.35A156.35,156.35 0 1 0 88.75,-128.72Z" fill="#6bc967" fill-rule="evenodd"/>
<path d="M91.17,-139.38A166.55,166.55 0 0 1 95.05,-136.76L89.23,-128.39A156.35,156.35 0 0 0 85.58,-130.85Z" fill="#c87b57" fill-rule="evenodd"/>
<path d="M88.96,-140.80A166.55,166.55 0 0 1 91.68,-139.04L86.07,-130.53A156.35,156.35 0 0 0 83.52,-132.18Z" fill="#715ba6" fill-rule="evenodd"/>
<path d="M78.93,-146.66A166.55,166.55 0 0 1 89.49,-140.47L84.01,-131.86A156.35,156.35 0 0 0 74.09,-137.68Z" fill="#c0452e" fill-rule="evenodd"/>
<path d="M58.84,-155.81A166.55,166.55 0 0 1 79.47,-146.37L74.60,-137.40A156.35,156.35 0 0 0 55.23,-146.27Z" fill="#823f28" fill-rule="evenodd"/>
<path d="M52.81,-157.96A166.55,166.55 0 0 1 59.41,-155.59L55.78,-146.06A156.35,156.35 0 0 0 49.58,-148.28Z" fill="#a31d6a" fill-rule="evenodd"/>
<path d="M51.15,-158.50A166.55,166.55 0 0 1 53.40,-157.76L50.13,-148.10A156.35,156.35 0 0 0 48.02,-148.79Z" fill="#762268" fill-rule="evenodd"/>
<path d="M29.74,-163.87A166.55,166.55 0 0 1 51.74,-158.31L48.57,-148.61A156.35,156.35 0 0 0 27.92,-153.84Z" fill="#62aad3" fill-rule="evenodd"/>
<path d="M0.00,-166.55A166.55,166.55 0 0 1 30.35,-163.76L28.49,-153.73A156.35,156.35 0 0 0 0.00,-156.35Z" fill="#b25b40" fill-rule="evenodd"/>
<path d="M-173.18,-47.39A179.55,179.55 0 0 1 -0.00,-179.55L-0.00,-169.35A169.35,169.35 0 0 0 -163.35,-44.70Z" fill="#6bc967" fill-rule="evenodd"/>
<path d="M-178.01,-23.45A179.55,179.55 0 0 1 -173.02,-47.98L-163.19,-45.26A169.35,169.35 0 0 0 -167.90,-22.11Z" fill="#c87b57" fill-rule="evenodd"/>
<path d="M-179.20,11.26A179.55,179.55 0 0 1 -177.93,-24.06L-167.82,-22.69A169.35,169.35 0 0 0 -169.02,10.62Z" fill="#715ba6" fill-rule="evenodd"/>
<path d="M-176.60,32.40A179.55,179.55 0 0 1 -179.23,10.65L-169.05,10.04A169.35,169.35 0 0 0 -166.57,30.56Z" fill="#c0452e" fill-rule="evenodd"/>
<path d="M-101.45,148.14A179.55,179.55 0 0 1 -176.71,31.80L-166.67,29.99A169.35,169.35 0 0 0 -95.68,139.73Z" fill="#823f28" fill-rule="evenodd"/>
<path d="M-80.96,160.26A179.55,179.55 0 0 1 -101.96,147.79L-96.16,139.40A169.35,169.35 0 0 0 -76.36,151.16Z" fill="#a31d6a" fill-rule="evenodd"/>
<path d="M-70.74,165.03A179.55,179.55 0 0 1 -81.51,159.98L-76.88,150.89A169.35,169.35 0 0 0 -66.72,155.65Z" fill="#762268" fill-rule="evenodd"/>
<path d="M-66.40,166.82A179.55,179.55 0 0 1 -71.31,164.78L-67.26,155.42A169.35,169.35 0 0 0 -62.62,157.35Z" fill="#62aad3" fill-rule="evenodd"/>
<path d="M75.59,162.86A179.55,179.55 0 0 1 -66.97,166.59L-63.17,157.13A169.35,169.35 0 0 0 71.29,153.61Z" fill="#b25b40" fill-rule="evenodd"/>
<path d="M0.00,-179.55A179.55,179.55 0 0 1 75.03,163.12L70.77,153.86A169.35,169.35 0 0 0 0.00,-169.35Z" fill="#bfbfbf" fill-rule="evenodd"/>
<path d="M166.11,-97.39A192.55,192.55 0 1 1 -0.00,-192.55L-0.00,-182.35A182.35,182.35 0 1 0 157.31,-92.23Z" fill="#6bc967" fill-rule="evenodd"/>
<path d="M162.78,-102.84A192.55,192.55 0 0 1 166.42,-96.86L157.60,-91.73A182.35,182.35 0 0 0 154.16,-97.39Z" fill="#c87b57" fill-rule="evenodd"/>
<path d="M157.57,-110.67A192.55,192.55 0 0 1 163.11,-102.32L154.47,-96.90A182.35,182.35 0 0 0 149.22,-104.81Z" fill="#715ba6" fill-rule="evenodd"/>
<path d="M145.80,-125.77A192.55,192.55 0 0 1 157.92,-110.17L149.55,-104.33A182.35,182.35 0 0 0 138.07,-119.11Z" fill="#c0452e" fill-rule="evenodd"/>
<path d="M21.85,-191.31A192.55,192.55 0 0 1 146.20,-125.31L138.45,-118.67A182.35,182.35 0 0 0 20.70,-181.17Z" fill="#823f28" fill-rule="evenodd"/>
<path d="M15.83,-191.90A192.55,192.55 0 0 1 22.46,-191.24L21.27,-181.10A182.35,182.35 0 0 0 14.99,-181.73Z" fill="#a31d6a" fill-rule="evenodd"/>
<path d="M2.74,-192.53A192.55,192.55 0 0 1 16.45,-191.85L15.58,-181.68A182.35,182.35 0 0 0 2.60,-182.33Z" fill="#62aad3" fill-rule="evenodd"/>
<path d="M0.00,-192.55A192.55,192.55 0 0 1 3.36,-192.52L3.18,-182.32A182.35,182.35 0 0 0 0.00,-182.35Z" fill="#bfbfbf" fill-rule="evenodd"/>
<path d="M181.87,-95.78A205.55,205.55 0 1 1 -0.00,-205.55L-0.00,-195.35A195.35,195.35 0 1 0 172.85,-91.02Z" fill="#6bc967" fill-rule="evenodd"/>
<path d="M88.91,-185.33A205.55,205.55 0 0 1 182.16,-95.23L173.12,-90.50A195.35,195.35 0 0 0 84.50,-176.13Z" fill="#c87b57" fill-rule="evenodd"/>
<path d="M24.44,-204.09A205.55,205.55 0 0 1 89.46,-185.06L85.02,-175.88A195.35,195.35 0 0 0 23.23,-193.96Z" fill="#715ba6" fill-rule="evenodd"/>
<path d="M17.30,-204.82A205.55,205.55 0 0 1 25.05,-204.02L23.81,-193.89A195.35,195.35 0 0 0 16.44,-194.66Z" fill="#a31d6a" fill-rule="evenodd"/>
<path d="M11.22,-205.24A205.55,205.55 0 0 1 17.91,-204.77L17.03,-194.61A195.35,195.35 0 0 0 10.66,-195.06Z" fill="#762268" fill-rule="evenodd"/>
<path d="M0.00,-205.55A205.55,205.55 0 0 1 11.83,-205.21L11.25,-195.03A195.35,195.35 0 0 0 0.00,-195.35Z" fill="#62aad3" fill-rule="evenodd"/>
<path d="M0.00,-205.55A205.55,205.55 0 0 1 0.36,-205.55L0.34,-195.35A195.35,195.35 0 0 0 0.00,-195.35Z" fill="#bfbfbf" fill-rule="evenodd"/>
<path d="M34.34,-215.84A218.55,218.55 0 1 1 -0.00,-218.55L-0.00,-208.35A208.35,208.35 0 1 0 32.73,-205.76Z" fill="#6bc967" fill-rule="evenodd"/>
<path d="M30.56,-216.40A218.55,218.55 0 0 1 34.94,-215.74L33.31,-205.67A208.35,208.35 0 0 0 29.14,-206.30Z" fill="#c87b57" fill-rule="evenodd"/>
<path d="M27.16,-216.86A218.55,218.55 0 0 1 31.17,-216.32L29.72,-206.22A208.35,208.35 0 0 0 25.89,-206.73Z" fill="#715ba6" fill-rule="evenodd"/>
<path d="M20.34,-217.60A218.55,218.55 0 0 1 27.77,-216.78L26.47,-206.66A208.35,208.35 0 0 0 19.39,-207.45Z" fill="#823f28" fill-rule="evenodd"/>
<path d="M10.82,-218.28A218.55,218.55 0 0 1 20.95,-217.54L19.97,-207.39A208.35,208.35 0 0 0 10.32,-208.09Z" fill="#a31d6a" fill-rule="evenodd"/>
<path d="M3.96,-218.51A218.55,218.55 0 0 1 11.44,-218.25L10.90,-208.06A208.35,208.35 0 0 0 3.78,-208.32Z" fill="#62aad3" fill-rule="evenodd"/>
<path d="M0.53,-218.55A218.55,218.55 0 0 1 4.58,-218.50L4.36,-208.30A208.35,208.35 0 0 0 0.51,-208.35Z" fill="#b25b40" fill-rule="evenodd"/>
<path d="M0.00,-218.55A218.55,218.55 0 0 1 1.14,-218.55L1.09,-208.35A208.35,208.35 0 0 0 0.00,-208.35Z" fill="#bfbfbf" fill-rule="evenodd"/>
<path d="M-35.23,-228.85A231.55,231.55 0 0 1 -0.00,-231.55L-0.00,-221.35A221.35,221.35 0 0 0 -33.68,-218.77Z" fill="#6bc967" fill-rule="evenodd"/>
<path d="M214.31,87.67A231.55,231.55 0 1 1 -34.62,-228.95L-33.10,-218.86A221.35,221.35 0 1 0 204.87,83.81Z" fill="#c87b57" fill-rule="evenodd"/>
<path d="M39.21,-228.21A231.55,231.55 0 0 1 214.08,88.24L204.65,84.35A221.35,221.35 0 0 0 37.48,-218.15Z" fill="#715ba6" fill-rule="evenodd"/>
<path d="M35.62,-228.79A231.55,231.55 0 0 1 39.81,-228.10L38.06,-218.05A221.35,221.35 0 0 0 34.05,-218.72Z" fill="#c0452e" fill-rule="evenodd"/>
<path d="M28.41,-229.80A231.55,231.55 0 0 1 36.22,-228.70L34.63,-218.62A221.35,221.35 0 0 0 27.16,-219.68Z" fill="#a31d6a" fill-rule="evenodd"/>
<path d="M9.08,-231.37A231.55,231.55 0 0 1 29.02,-229.72L27.74,-219.60A221.35,221.35 0 0 0 8.68,-221.18Z" fill="#762268" fill-rule="evenodd"/>
<path d="M3.83,-231.52A231.55,231.55 0 0 1 9.70,-231.35L9.27,-221.16A221.35,221.35 0 0 0 3.66,-221.32Z" fill="#62aad3" fill-rule="evenodd"/>
<path d="M2.22,-231.54A231.55,231.55 0 0 1 4.45,-231.51L4.25,-221.31A221.35,221.35 0 0 0 2.12,-221.34Z" fill="#b25b40" fill-rule="evenodd"/>
<path d="M0.00,-231.55A231.55,231.55 0 0 1 2.83,-231.53L2.70,-221.33A221.35,221.35 0 0 0 0.00,-221.35Z" fill="#bfbfbf" fill-rule="evenodd"/>
<path d="M-18.95,-243.81A244.55,244.55 0 0 1 -0.00,-244.55L-0.00,-234.35A234.35,234.35 0 0 0 -18.16,-233.65Z" fill="#6bc967" fill-rule="evenodd"/>
<path d="M-29.99,-242.70A244.55,244.55 0 0 1 -18.34,-243.86L-17.57,-233.69A234.35,234.35 0 0 0 -28.74,-232.58Z" fill="#c87b57" fill-rule="evenodd"/>
<path d="M-41.18,-241.06A244.55,244.55 0 0 1 -29.38,-242.78L-28.15,-232.65A234.35,234.35 0 0 0 -39.46,-231.00Z" fill="#715ba6" fill-rule="evenodd"/>
<path d="M-46.64,-240.06A244.55,244.55 0 0 1 -40.57,-241.16L-38.88,-231.10A234.35,234.35 0 0 0 -44.69,-230.05Z" fill="#c0452e" fill-rule="evenodd"/>
<path d="M-52.90,-238.76A244.55,244.55 0 0 1 -46.03,-240.18L-44.11,-230.16A234.35,234.35 0 0 0 -50.70,-228.80Z" fill="#823f28" fill-rule="evenodd"/>
<path d="M-61.00,-236.82A244.55,244.55 0 0 1 -52.31,-238.89L-50.12,-228.93A234.35,234.35 0 0 0 -58.45,-226.94Z" fill="#a31d6a" fill-rule="evenodd"/>
<path d="M-62.44,-236.44A244.55,244.55 0 0 1 -60.40,-236.97L-57.88,-227.09A234.35,234.35 0 0 0 -59.84,-226.58Z" fill="#762268" fill-rule="evenodd"/>
<path d="M-66.35,-235.38A244.55,244.55 0 0 1 -61.85,-236.60L-59.27,-226.73A234.35,234.35 0 0 0 -63.59,-225.56Z" fill="#62aad3" fill-rule="evenodd"/>
<path d="M-68.41,-234.79A244.55,244.55 0 0 1 -65.76,-235.54L-63.02,-225.72A234.35,234.35 0 0 0 -65.55,-225.00Z" fill="#b25b40" fill-rule="evenodd"/>
<path d="M0.00,-244.55A244.55,244.55 0 1 1 -67.82,-234.96L-64.99,-225.16A234.35,234.35 0 1 0 0.00,-234.35Z" fill="#bfbfbf" fill-rule="evenodd"/>
</g>
<g transform="translate(398.7,1073.95) scale(1.0125,1)">
<path d="M-0.42,-11.89A11.90,11.90 0 0 1 -0.00,-11.90L0,0Z" fill="#6bc967" fill-rule="evenodd"/>
<path d="M0.21,-11.90A11.90,11.90 0 1 1 -0.31,-11.90L0,0Z" fill="#dab85e" fill-rule="evenodd"/>
<path d="M0.00,-11.90A11.90,11.90 0 0 1 0.31,-11.90L0,0Z" fill="#bfbfbf" fill-rule="evenodd"/>
<path d="M-1.80,-26.34A26.40,26.40 0 0 1 -0.00,-26.40L-0.00,-15.30A15.30,15.30 0 0 0 -1.04,-15.26Z" fill="#6bc967" fill-rule="evenodd"/>
<path d="M19.09,-18.24A26.40,26.40 0 1 1 -1.57,-26.35L-0.91,-15.27A15.30,15.30 0 1 0 11.06,-10.57Z" fill="#dab85e" fill-rule="evenodd"/>
<path d="M14.65,-21.96A26.40,26.40 0 0 1 19.24,-18.07L11.15,-10.47A15.30,15.30 0 0 0 8.49,-12.73Z" fill="#c87b57" fill-rule="evenodd"/>
<path d="M8.94,-24.84A26.40,26.40 0 0 1 14.84,-21.83L8.60,-12.65A15.30,15.30 0 0 0 5.18,-14.40Z" fill="#715ba6" fill-rule="evenodd"/>
<path d="M4.54,-26.01A26.40,26.40 0 0 1 9.16,-24.76L5.31,-14.35A15.30,15.30 0 0 0 2.63,-15.07Z" fill="#da9b5e" fill-rule="evenodd"/>
<path d="M2.67,-26.26A26.40,26.40 0 0 1 4.77,-25.97L2.76,-15.05A15.30,15.30 0 0 0 1.55,-15.22Z" fill="#a31d6a" fill-rule="evenodd"/>
<path d="M0.00,-26.40A26.40,26.40 0 0 1 2.90,-26.24L1.68,-15.21A15.30,15.30 0 0 0 0.00,-15.30Z" fill="#bfbfbf" fill-rule="evenodd"/>
<path d="M-2.35,-40.83A40.90,40.90 0 0 1 -0.00,-40.90L-0.00,-29.80A29.80,29.80 0 0 0 -1.72,-29.75Z" fill="#6bc967" fill-rule="evenodd"/>
<path d="M22.93,-33.87A40.90,40.90 0 1 1 -2.00,-40.85L-1.46,-29.76A29.80,29.80 0 1 0 16.71,-24.68Z" fill="#dab85e" fill-rule="evenodd"/>
<path d="M13.72,-38.53A40.90,40.90 0 0 1 23.22,-33.67L16.92,-24.53A29.80,29.80 0 0 0 10.00,-28.07Z" fill="#c87b57" fill-rule="evenodd"/>
<path d="M7.66,-40.18A40.90,40.90 0 0 1 14.06,-38.41L10.24,-27.99A29.80,29.80 0 0 0 5.58,-29.27Z" fill="#715ba6" fill-rule="evenodd"/>
<path d="M2.85,-40.80A40.90,40.90 0 0 1 8.01,-40.11L5.84,-29.22A29.80,29.80 0 0 0 2.08,-29.73Z" fill="#da9b5e" fill-rule="evenodd"/>
<path d="M0.00,-40.90A40.90,40.90 0 0 1 3.21,-40.77L2.34,-29.71A29.80,29.80 0 0 0 0.00,-29.80Z" fill="#bfbfbf" fill-rule="evenodd"/>
<path d="M-7.90,-54.83A55.40,55.40 0 0 1 -0.00,-55.40L-0.00,-44.30A44.30,44.30 0 0 0 -6.32,-43.85Z" fill="#6bc967" fill-rule="evenodd"/>
<path d="M40.85,37.43A55.40,55.40 0 1 1 -7.42,-54.90L-5.94,-43.90A44.30,44.30 0 1 0 32.66,29.93Z" fill="#dab85e" fill-rule="evenodd"/>
<path d="M42.69,35.31A55.40,55.40 0 0 1 40.52,37.78L32.40,30.21A44.30,44.30 0 0 0 34.13,28.24Z" fill="#c87b57" fill-rule="evenodd"/>
<path d="M44.07,33.57A55.40,55.40 0 0 1 42.38,35.68L33.89,28.53A44.30,44.30 0 0 0 35.24,26.85Z" fill="#715ba6" fill-rule="evenodd"/>
<path d="M47.69,28.20A55.40,55.40 0 0 1 43.77,33.96L35.00,27.15A44.30,44.30 0 0 0 38.13,22.55Z" fill="#c0452e" fill-rule="evenodd"/>
<path d="M50.33,23.15A55.40,55.40 0 0 1 47.44,28.62L37.93,22.88A44.30,44.30 0 0 0 40.25,18.51Z" fill="#7a7493" fill-rule="evenodd"/>
<path d="M54.78,8.28A55.40,55.40 0 0 1 50.13,23.59L40.08,18.86A44.30,44.30 0 0 0 43.80,6.62Z" fill="#823f28" fill-rule="evenodd"/>
<path d="M37.36,-40.91A55.40,55.40 0 0 1 54.70,8.76L43.74,7.01A44.30,44.30 0 0 0 29.87,-32.71Z" fill="#cb7ba3" fill-rule="evenodd"/>
<path d="M34.41,-43.42A55.40,55.40 0 0 1 37.71,-40.58L30.16,-32.45A44.30,44.30 0 0 0 27.52,-34.72Z" fill="#a31d6a" fill-rule="evenodd"/>
<path d="M32.56,-44.82A55.40,55.40 0 0 1 34.79,-43.11L27.82,-34.48A44.30,44.30 0 0 0 26.04,-35.84Z" fill="#62aad3" fill-rule="evenodd"/>
<path d="M0.00,-55.40A55.40,55.40 0 0 1 32.95,-44.53L26.35,-35.61A44.30,44.30 0 0 0 0.00,-44.30Z" fill="#bfbfbf" fill-rule="evenodd"/>
<path d="M-11.66,-68.92A69.90,69.90 0 0 1 -0.00,-69.90L-0.00,-58.80A58.80,58.80 0 0 0 -9.81,-57.98Z" fill="#6bc967" fill-rule="evenodd"/>
<path d="M67.91,-16.55A69.90,69.90 0 1 1 -11.06,-69.02L-9.30,-58.06A58.80,58.80 0 1 0 57.13,-13.93Z" fill="#dab85e" fill-rule="evenodd"/>
<path d="M67.16,-19.38A69.90,69.90 0 0 1 68.05,-15.96L57.25,-13.43A58.80,58.80 0 0 0 56.49,-16.31Z" fill="#c87b57" fill-rule="evenodd"/>
<path d="M66.05,-22.87A69.90,69.90 0 0 1 67.33,-18.80L56.63,-15.81A58.80,58.80 0 0 0 55.56,-19.24Z" fill="#715ba6" fill-rule="evenodd"/>
<path d="M64.20,-27.65A69.90,69.90 0 0 1 66.25,-22.30L55.73,-18.75A58.80,58.80 0 0 0 54.00,-23.26Z" fill="#da9b5e" fill-rule="evenodd"/>
<path d="M61.89,-32.49A69.90,69.90 0 0 1 64.44,-27.09L54.21,-22.79A58.80,58.80 0 0 0 52.06,-27.33Z" fill="#c0452e" fill-rule="evenodd"/>
<path d="M59.02,-37.45A69.90,69.90 0 0 1 62.17,-31.95L52.30,-26.88A58.80,58.80 0 0 0 49.65,-31.51Z" fill="#7a7493" fill-rule="evenodd"/>
<path d="M53.47,-45.02A69.90,69.90 0 0 1 59.34,-36.94L49.92,-31.07A58.80,58.80 0 0 0 44.98,-37.87Z" fill="#823f28" fill-rule="evenodd"/>
<path d="M8.28,-69.41A69.90,69.90 0 0 1 53.86,-44.56L45.31,-37.48A58.80,58.80 0 0 0 6.96,-58.39Z" fill="#cb7ba3" fill-rule="evenodd"/>
<path d="M4.51,-69.75A69.90,69.90 0 0 1 8.88,-69.33L7.47,-58.32A58.80,58.80 0 0 0 3.79,-58.68Z" fill="#a31d6a" fill-rule="evenodd"/>
<path d="M1.83,-69.88A69.90,69.90 0 0 1 5.12,-69.71L4.31,-58.64A58.80,58.80 0 0 0 1.54,-58.78Z" fill="#62aad3" fill-rule="evenodd"/>
<path d="M0.00,-69.90A69.90,69.90 0 0 1 2.44,-69.86L2.05,-58.76A58.80,58.80 0 0 0 0.00,-58.80Z" fill="#bfbfbf" fill-rule="evenodd"/>
<path d="M-9.90,-83.82A84.40,84.40 0 0 1 -0.00,-84.40L-0.00,-73.30A73.30,73.30 0 0 0 -8.60,-72.79Z" fill="#6bc967" fill-rule="evenodd"/>
<path d="M60.26,-59.09A84.40,84.40 0 1 1 -9.26,-83.89L-8.04,-72.86A73.30,73.30 0 1 0 52.34,-51.32Z" fill="#dab85e" fill-rule="evenodd"/>
<path d="M46.17,-70.65A84.40,84.40 0 0 1 60.71,-58.63L52.73,-50.92A73.30,73.30 0 0 0 40.10,-61.36Z" fill="#c87b57" fill-rule="evenodd"/>
<path d="M31.02,-78.49A84.40,84.40 0 0 1 46.71,-70.30L40.56,-61.05A73.30,73.30 0 0 0 26.94,-68.17Z" fill="#715ba6" fill-rule="evenodd"/>
<path d="M9.21,-83.90A84.40,84.40 0 0 1 31.62,-78.25L27.46,-67.96A73.30,73.30 0 0 0 8.00,-72.86Z" fill="#da9b5e" fill-rule="evenodd"/>
<path d="M4.36,-84.29A84.40,84.40 0 0 1 9.85,-83.82L8.55,-72.80A73.30,73.30 0 0 0 3.79,-73.20Z" fill="#a31d6a" fill-rule="evenodd"/>
<path d="M1.71,-84.38A84.40,84.40 0 0 1 5.01,-84.25L4.35,-73.17A73.30,73.30 0 0 0 1.49,-73.28Z" fill="#62aad3" fill-rule="evenodd"/>
<path d="M0.00,-84.40A84.40,84.40 0 0 1 2.36,-84.37L2.05,-73.27A73.30,73.30 0 0 0 0.00,-73.30Z" fill="#bfbfbf" fill-rule="evenodd"/>
<path d="M-4.09,-98.82A98.90,98.90 0 0 1 -0.00,-98.90L-0.00,-87.80A87.80,87.80 0 0 0 -3.63,-87.73Z" fill="#6bc967" fill-rule="evenodd"/>
<path d="M11.76,-98.20A98.90,98.90 0 1 1 -3.45,-98.84L-3.06,-87.75A87.80,87.80 0 1 0 10.44,-87.18Z" fill="#dab85e" fill-rule="evenodd"/>
<path d="M9.53,-98.44A98.90,98.90 0 0 1 12.40,-98.12L11.00,-87.11A87.80,87.80 0 0 0 8.46,-87.39Z" fill="#c87b57" fill-rule="evenodd"/>
<path d="M7.47,-98.62A98.90,98.90 0 0 1 10.17,-98.38L9.03,-87.33A87.80,87.80 0 0 0 6.63,-87.55Z" fill="#da9b5e" fill-rule="evenodd"/>
<path d="M4.37,-98.80A98.90,98.90 0 0 1 8.10,-98.57L7.19,-87.50A87.80,87.80 0 0 0 3.88,-87.71Z" fill="#c0452e" fill-rule="evenodd"/>
<path d="M2.30,-98.87A98.90,98.90 0 0 1 5.00,-98.77L4.44,-87.69A87.80,87.80 0 0 0 2.04,-87.78Z" fill="#762268" fill-rule="evenodd"/>
<path d="M0.00,-98.90A98.90,98.90 0 0 1 2.93,-98.86L2.60,-87.76A87.80,87.80 0 0 0 0.00,-87.80Z" fill="#bfbfbf" fill-rule="evenodd"/>
<path d="M-24.77,-110.66A113.40,113.40 0 0 1 -0.00,-113.40L-0.00,-102.30A102.30,102.30 0 0 0 -22.35,-99.83Z" fill="#6bc967" fill-rule="evenodd"/>
<path d="M84.51,-75.61A113.40,113.40 0 1 1 -24.16,-110.80L-21.79,-99.95A102.30,102.30 0 1 0 76.24,-68.21Z" fill="#dab85e" fill-rule="evenodd"/>
<path d="M81.68,-78.66A113.40,113.40 0 0 1 84.93,-75.14L76.62,-67.79A102.30,102.30 0 0 0 73.69,-70.96Z" fill="#c87b57" fill-rule="evenodd"/>
<path d="M77.17,-83.10A113.40,113.40 0 0 1 82.12,-78.20L74.08,-70.55A102.30,102.30 0 0 0 69.61,-74.96Z" fill="#715ba6" fill-rule="evenodd"/>
<path d="M76.29,-83.90A113.40,113.40 0 0 1 77.63,-82.67L70.03,-74.57A102.30,102.30 0 0 0 68.82,-75.69Z" fill="#da9b5e" fill-rule="evenodd"/>
<path d="M72.41,-87.27A113.40,113.40 0 0 1 76.76,-83.47L69.24,-75.30A102.30,102.30 0 0 0 65.32,-78.73Z" fill="#c0452e" fill-rule="evenodd"/>
<path d="M64.69,-93.14A113.40,113.40 0 0 1 72.89,-86.87L65.76,-78.37A102.30,102.30 0 0 0 58.36,-84.02Z" fill="#7a7493" fill-rule="evenodd"/>
<path d="M55.64,-98.81A113.40,113.40 0 0 1 65.21,-92.78L58.82,-83.70A102.30,102.30 0 0 0 50.19,-89.14Z" fill="#823f28" fill-rule="evenodd"/>
<path d="M50.21,-101.68A113.40,113.40 0 0 1 56.19,-98.50L50.69,-88.86A102.30,102.30 0 0 0 45.30,-91.73Z" fill="#cb7ba3" fill-rule="evenodd"/>
<path d="M25.28,-110.55A113.40,113.40 0 0 1 50.78,-101.40L45.81,-91.47A102.30,102.30 0 0 0 22.81,-99.73Z" fill="#a31d6a" fill-rule="evenodd"/>
<path d="M17.90,-111.98A113.40,113.40 0 0 1 25.89,-110.40L23.36,-99.60A102.30,102.30 0 0 0 16.15,-101.02Z" fill="#62aad3" fill-rule="evenodd"/>
<path d="M16.33,-112.22A113.40,113.40 0 0 1 18.52,-111.88L16.71,-100.93A102.30,102.30 0 0 0 14.73,-101.23Z" fill="#b25b40" fill-rule="evenodd"/>
<path d="M0.00,-113.40A113.40,113.40 0 0 1 16.96,-112.12L15.30,-101.15A102.30,102.30 0 0 0 0.00,-102.30Z" fill="#bfbfbf" fill-rule="evenodd"/>
<path d="M-9.10,-127.58A127.90,127.90 0 0 1 -0.00,-127.90L-0.00,-116.80A116.80,116.80 0 0 0 -8.31,-116.50Z" fill="#6bc967" fill-rule="evenodd"/>
<path d="M43.15,-120.40A127.90,127.90 0 1 1 -8.48,-127.62L-7.74,-116.54A116.80,116.80 0 1 0 39.41,-109.95Z" fill="#dab85e" fill-rule="evenodd"/>
<path d="M32.93,-123.59A127.90,127.90 0 0 1 43.74,-120.19L39.95,-109.76A116.80,116.80 0 0 0 30.07,-112.86Z" fill="#c87b57" fill-rule="evenodd"/>
<path d="M21.37,-126.10A127.90,127.90 0 0 1 33.53,-123.43L30.62,-112.71A116.80,116.80 0 0 0 19.52,-115.16Z" fill="#715ba6" fill-rule="evenodd"/>
<path d="M8.30,-127.63A127.90,127.90 0 0 1 21.99,-126.00L20.08,-115.06A116.80,116.80 0 0 0 7.58,-116.55Z" fill="#da9b5e" fill-rule="evenodd"/>
<path d="M2.72,-127.87A127.90,127.90 0 0 1 8.92,-127.59L8.15,-116.52A116.80,116.80 0 0 0 2.48,-116.77Z" fill="#a31d6a" fill-rule="evenodd"/>
<path d="M0.49,-127.90A127.90,127.90 0 0 1 3.35,-127.86L3.06,-116.76A116.80,116.80 0 0 0 0.45,-116.80Z" fill="#62aad3" fill-rule="evenodd"/>
<path d="M0.00,-127.90A127.90,127.90 0 0 1 1.12,-127.90L1.02,-116.80A116.80,116.80 0 0 0 0.00,-116.80Z" fill="#bfbfbf" fill-rule="evenodd"/>
<path d="M-9.07,-142.11A142.40,142.40 0 0 1 -0.00,-142.40L-0.00,-131.30A131.30,131.30 0 0 0 -8.36,-131.03Z" fill="#6bc967" fill-rule="evenodd"/>
<path d="M11.79,-141.91A142.40,142.40 0 1 1 -8.45,-142.15L-7.79,-131.07A131.30,131.30 0 1 0 10.87,-130.85Z" fill="#dab85e" fill-rule="evenodd"/>
<path d="M8.32,-142.16A142.40,142.40 0 0 1 12.41,-141.86L11.44,-130.80A131.30,131.30 0 0 0 7.67,-131.08Z" fill="#da9b5e" fill-rule="evenodd"/>
<path d="M4.35,-142.33A142.40,142.40 0 0 1 8.94,-142.12L8.24,-131.04A131.30,131.30 0 0 0 4.01,-131.24Z" fill="#c0452e" fill-rule="evenodd"/>
<path d="M1.12,-142.40A142.40,142.40 0 0 1 4.97,-142.31L4.58,-131.22A131.30,131.30 0 0 0 1.03,-131.30Z" fill="#762268" fill-rule="evenodd"/>
<path d="M0.00,-142.40A142.40,142.40 0 0 1 1.74,-142.39L1.60,-131.29A131.30,131.30 0 0 0 0.00,-131.30Z" fill="#bfbfbf" fill-rule="evenodd"/>
<path d="M-19.74,-155.65A156.90,156.90 0 0 1 -0.00,-156.90L-0.00,-145.80A145.80,145.80 0 0 0 -18.34,-144.64Z" fill="#6bc967" fill-rule="evenodd"/>
<path d="M136.79,-76.85A156.90,156.90 0 1 1 -19.12,-155.73L-17.77,-144.71A145.80,145.80 0 1 0 127.11,-71.41Z" fill="#dab85e" fill-rule="evenodd"/>
<path d="M133.45,-82.51A156.90,156.90 0 0 1 137.09,-76.31L127.40,-70.91A145.80,145.80 0 0 0 124.01,-76.67Z" fill="#c87b57" fill-rule="evenodd"/>
<path d="M129.42,-88.70A156.90,156.90 0 0 1 133.78,-81.98L124.31,-76.18A145.80,145.80 0 0 0 120.26,-82.43Z" fill="#715ba6" fill-rule="evenodd"/>
<path d="M128.48,-90.06A156.90,156.90 0 0 1 129.77,-88.19L120.59,-81.95A145.80,145.80 0 0 0 119.39,-83.68Z" fill="#da9b5e" fill-rule="evenodd"/>
<path d="M122.92,-97.52A156.90,156.90 0 0 1 128.84,-89.54L119.72,-83.21A145.80,145.80 0 0 0 114.22,-90.62Z" fill="#c0452e" fill-rule="evenodd"/>
<path d="M117.64,-103.82A156.90,156.90 0 0 1 123.30,-97.03L114.58,-90.16A145.80,145.80 0 0 0 109.32,-96.47Z" fill="#7a7493" fill-rule="evenodd"/>
<path d="M108.74,-113.11A156.90,156.90 0 0 1 118.05,-103.35L109.70,-96.04A145.80,145.80 0 0 0 101.05,-105.10Z" fill="#823f28" fill-rule="evenodd"/>
<path d="M16.05,-156.08A156.90,156.90 0 0 1 109.19,-112.67L101.46,-104.70A145.80,145.80 0 0 0 14.92,-145.03Z" fill="#cb7ba3" fill-rule="evenodd"/>
<path d="M12.51,-156.40A156.90,156.90 0 0 1 16.67,-156.01L15.49,-144.97A145.80,145.80 0 0 0 11.62,-145.34Z" fill="#762268" fill-rule="evenodd"/>
<path d="M10.32,-156.56A156.90,156.90 0 0 1 13.13,-156.35L12.20,-145.29A145.80,145.80 0 0 0 9.59,-145.48Z" fill="#62aad3" fill-rule="evenodd"/>
<path d="M7.86,-156.70A156.90,156.90 0 0 1 10.94,-156.52L10.17,-145.44A145.80,145.80 0 0 0 7.31,-145.62Z" fill="#b25b40" fill-rule="evenodd"/>
<path d="M0.00,-156.90A156.90,156.90 0 0 1 8.48,-156.67L7.88,-145.59A145.80,145.80 0 0 0 0.00,-145.80Z" fill="#bfbfbf" fill-rule="evenodd"/>
<path d="M-9.59,-171.13A171.40,171.40 0 0 1 -0.00,-171.40L-0.00,-160.30A160.30,160.30 0 0 0 -8.97,-160.05Z" fill="#6bc967" fill-rule="evenodd"/>
<path d="M99.51,-139.55A171.40,171.40 0 1 1 -8.97,-171.17L-8.39,-160.08A160.30,160.30 0 1 0 93.07,-130.51Z" fill="#dab85e" fill-rule="evenodd"/>
<path d="M96.57,-141.61A171.40,171.40 0 0 1 100.02,-139.19L93.54,-130.18A160.30,160.30 0 0 0 90.32,-132.44Z" fill="#715ba6" fill-rule="evenodd"/>
<path d="M91.06,-145.21A171.40,171.40 0 0 1 97.08,-141.26L90.79,-132.11A160.30,160.30 0 0 0 85.17,-135.80Z" fill="#c0452e" fill-rule="evenodd"/>
<path d="M85.16,-148.75A171.40,171.40 0 0 1 91.59,-144.88L85.66,-135.50A160.30,160.30 0 0 0 79.65,-139.11Z" fill="#7a7493" fill-rule="evenodd"/>
<path d="M77.26,-153.00A171.40,171.40 0 0 1 85.70,-148.44L80.15,-138.82A160.30,160.30 0 0 0 72.26,-143.09Z" fill="#823f28" fill-rule="evenodd"/>
<path d="M12.83,-170.92A171.40,171.40 0 0 1 77.81,-152.72L72.77,-142.83A160.30,160.30 0 0 0 12.00,-159.85Z" fill="#cb7ba3" fill-rule="evenodd"/>
<path d="M5.36,-171.32A171.40,171.40 0 0 1 13.45,-170.87L12.58,-159.81A160.30,160.30 0 0 0 5.01,-160.22Z" fill="#762268" fill-rule="evenodd"/>
<path d="M1.17,-171.40A171.40,171.40 0 0 1 5.98,-171.30L5.59,-160.20A160.30,160.30 0 0 0 1.10,-160.30Z" fill="#62aad3" fill-rule="evenodd"/>
<path d="M0.00,-171.40A171.40,171.40 0 0 1 1.79,-171.39L1.68,-160.29A160.30,160.30 0 0 0 0.00,-160.30Z" fill="#bfbfbf" fill-rule="evenodd"/>
<path d="M-13.58,-185.40A185.90,185.90 0 0 1 -0.00,-185.90L-0.00,-174.80A174.80,174.80 0 0 0 -12.77,-174.33Z" fill="#6bc967" fill-rule="evenodd"/>
<path d="M83.85,-165.92A185.90,185.90 0 1 1 -12.97,-185.45L-12.19,-174.37A174.80,174.80 0 1 0 78.84,-156.01Z" fill="#dab85e" fill-rule="evenodd"/>
<path d="M81.08,-167.29A185.90,185.90 0 0 1 84.40,-165.64L79.36,-155.75A174.80,174.80 0 0 0 76.24,-157.30Z" fill="#c87b57" fill-rule="evenodd"/>
<path d="M75.64,-169.82A185.90,185.90 0 0 1 81.64,-167.01L76.76,-157.04A174.80,174.80 0 0 0 71.12,-159.68Z" fill="#715ba6" fill-rule="evenodd"/>
<path d="M74.01,-170.53A185.90,185.90 0 0 1 76.20,-169.56L71.65,-159.44A174.80,174.80 0 0 0 69.59,-160.35Z" fill="#da9b5e" fill-rule="evenodd"/>
<path d="M68.46,-172.83A185.90,185.90 0 0 1 74.57,-170.29L70.12,-160.12A174.80,174.80 0 0 0 64.37,-162.51Z" fill="#c0452e" fill-rule="evenodd"/>
<path d="M61.93,-175.28A185.90,185.90 0 0 1 69.04,-172.61L64.92,-162.30A174.80,174.80 0 0 0 58.23,-164.82Z" fill="#7a7493" fill-rule="evenodd"/>
<path d="M50.49,-178.91A185.90,185.90 0 0 1 62.51,-175.07L58.78,-164.62A174.80,174.80 0 0 0 47.48,-168.23Z" fill="#823f28" fill-rule="evenodd"/>
<path d="M12.35,-185.49A185.90,185.90 0 0 1 51.09,-178.74L48.03,-168.07A174.80,174.80 0 0 0 11.61,-174.41Z" fill="#cb7ba3" fill-rule="evenodd"/>
<path d="M8.79,-185.69A185.90,185.90 0 0 1 12.97,-185.45L12.19,-174.37A174.80,174.80 0 0 0 8.26,-174.60Z" fill="#a31d6a" fill-rule="evenodd"/>
<path d="M2.30,-185.89A185.90,185.90 0 0 1 9.41,-185.66L8.84,-174.58A174.80,174.80 0 0 0 2.16,-174.79Z" fill="#62aad3" fill-rule="evenodd"/>
<path d="M0.68,-185.90A185.90,185.90 0 0 1 2.92,-185.88L2.75,-174.78A174.80,174.80 0 0 0 0.64,-174.80Z" fill="#b25b40" fill-rule="evenodd"/>
<path d="M0.00,-185.90A185.90,185.90 0 0 1 1.30,-185.90L1.22,-174.80A174.80,174.80 0 0 0 0.00,-174.80Z" fill="#bfbfbf" fill-rule="evenodd"/>
<path d="M-7.96,-200.24A200.40,200.40 0 0 1 -0.00,-200.40L-0.00,-189.30A189.30,189.30 0 0 0 -7.52,-189.15Z" fill="#6bc967" fill-rule="evenodd"/>
<path d="M58.84,-191.57A200.40,200.40 0 1 1 -7.34,-200.27L-6.94,-189.17A189.30,189.30 0 1 0 55.58,-180.96Z" fill="#dab85e" fill-rule="evenodd"/>
<path d="M55.82,-192.47A200.40,200.40 0 0 1 59.43,-191.39L56.14,-180.79A189.30,189.30 0 0 0 52.73,-181.81Z" fill="#715ba6" fill-rule="evenodd"/>
<path d="M45.84,-195.09A200.40,200.40 0 0 1 56.41,-192.30L53.29,-181.64A189.30,189.30 0 0 0 43.30,-184.28Z" fill="#c0452e" fill-rule="evenodd"/>
<path d="M37.29,-196.90A200.40,200.40 0 0 1 46.44,-194.94L43.87,-184.15A189.30,189.30 0 0 0 35.22,-185.99Z" fill="#7a7493" fill-rule="evenodd"/>
<path d="M23.46,-199.02A200.40,200.40 0 0 1 37.89,-196.78L35.80,-185.88A189.30,189.30 0 0 0 22.16,-188.00Z" fill="#823f28" fill-rule="evenodd"/>
<path d="M7.43,-200.26A200.40,200.40 0 0 1 24.08,-198.95L22.74,-187.93A189.30,189.30 0 0 0 7.01,-189.17Z" fill="#cb7ba3" fill-rule="evenodd"/>
<path d="M3.58,-200.37A200.40,200.40 0 0 1 8.04,-200.24L7.60,-189.15A189.30,189.30 0 0 0 3.38,-189.27Z" fill="#a31d6a" fill-rule="evenodd"/>
<path d="M0.78,-200.40A200.40,200.40 0 0 1 4.20,-200.36L3.96,-189.26A189.30,189.30 0 0 0 0.74,-189.30Z" fill="#62aad3" fill-rule="evenodd"/>
<path d="M0.00,-200.40A200.40,200.40 0 0 1 1.40,-200.40L1.32,-189.30A189.30,189.30 0 0 0 0.00,-189.30Z" fill="#bfbfbf" fill-rule="evenodd"/>
<path d="M-2.87,-214.88A214.90,214.90 0 0 1 -0.00,-214.90L-0.00,-203.80A203.80,203.80 0 0 0 -2.72,-203.78Z" fill="#6bc967" fill-rule="evenodd"/>
<path d="M-9.51,214.69A214.90,214.90 0 0 1 -2.25,-214.89L-2.13,-203.79A203.80,203.80 0 0 0 -9.02,203.60Z" fill="#dab85e" fill-rule="evenodd"/>
<path d="M-7.63,214.76A214.90,214.90 0 0 1 -10.12,214.66L-9.60,203.57A203.80,203.80 0 0 0 -7.24,203.67Z" fill="#da9b5e" fill-rule="evenodd"/>
<path d="M-4.63,214.85A214.90,214.90 0 0 1 -8.25,214.74L-7.82,203.65A203.80,203.80 0 0 0 -4.40,203.75Z" fill="#7a7493" fill-rule="evenodd"/>
<path d="M-2.76,214.88A214.90,214.90 0 0 1 -5.25,214.84L-4.98,203.74A203.80,203.80 0 0 0 -2.62,203.78Z" fill="#c87b57" fill-rule="evenodd"/>
<path d="M-1.26,214.90A214.90,214.90 0 0 1 -3.38,214.87L-3.20,203.77A203.80,203.80 0 0 0 -1.19,203.80Z" fill="#823f28" fill-rule="evenodd"/>
<path d="M1.37,214.90A214.90,214.90 0 0 1 -1.88,214.89L-1.78,203.79A203.80,203.80 0 0 0 1.30,203.80Z" fill="#cb7ba3" fill-rule="evenodd"/>
<path d="M2.49,214.89A214.90,214.90 0 0 1 0.75,214.90L0.71,203.80A203.80,203.80 0 0 0 2.36,203.79Z" fill="#a31d6a" fill-rule="evenodd"/>
<path d="M6.62,214.80A214.90,214.90 0 0 1 1.88,214.89L1.78,203.79A203.80,203.80 0 0 0 6.27,203.70Z" fill="#62aad3" fill-rule="evenodd"/>
<path d="M0.00,-214.90A214.90,214.90 0 0 1 6.00,214.82L5.69,203.72A203.80,203.80 0 0 0 0.00,-203.80Z" fill="#bfbfbf" fill-rule="evenodd"/>
<path d="M-26.18,-227.90A229.40,229.40 0 0 1 -0.00,-229.40L-0.00,-218.30A218.30,218.30 0 0 0 -24.92,-216.87Z" fill="#6bc967" fill-rule="evenodd"/>
<path d="M45.52,-224.84A229.40,229.40 0 1 1 -25.57,-227.97L-24.33,-216.94A218.30,218.30 0 1 0 43.32,-213.96Z" fill="#dab85e" fill-rule="evenodd"/>
<path d="M33.70,-226.91A229.40,229.40 0 0 1 46.13,-224.71L43.90,-213.84A218.30,218.30 0 0 0 32.06,-215.93Z" fill="#c87b57" fill-rule="evenodd"/>
<path d="M20.18,-228.51A229.40,229.40 0 0 1 34.30,-226.82L32.64,-215.85A218.30,218.30 0 0 0 19.20,-217.45Z" fill="#715ba6" fill-rule="evenodd"/>
<path d="M9.39,-229.21A229.40,229.40 0 0 1 20.79,-228.46L19.79,-217.40A218.30,218.30 0 0 0 8.94,-218.12Z" fill="#da9b5e" fill-rule="evenodd"/>
<path d="M3.79,-229.37A229.40,229.40 0 0 1 10.01,-229.18L9.52,-218.09A218.30,218.30 0 0 0 3.61,-218.27Z" fill="#a31d6a" fill-rule="evenodd"/>
<path d="M0.59,-229.40A229.40,229.40 0 0 1 4.40,-229.36L4.19,-218.26A218.30,218.30 0 0 0 0.56,-218.30Z" fill="#62aad3" fill-rule="evenodd"/>
<path d="M0.00,-229.40A229.40,229.40 0 0 1 1.20,-229.40L1.14,-218.30A218.30,218.30 0 0 0 0.00,-218.30Z" fill="#bfbfbf" fill-rule="evenodd"/>
<path d="M-13.38,-243.53A243.90,243.90 0 0 1 -0.00,-243.90L-0.00,-232.80A232.80,232.80 0 0 0 -12.77,-232.45Z" fill="#6bc967" fill-rule="evenodd"/>
<path d="M123.22,210.49A243.90,243.90 0 1 1 -12.76,-243.57L-12.18,-232.48A232.80,232.80 0 1 0 117.61,200.91Z" fill="#dab85e" fill-rule="evenodd"/>
<path d="M131.92,205.14A243.90,243.90 0 0 1 122.69,210.80L117.10,201.20A232.80,232.80 0 0 0 125.92,195.81Z" fill="#c87b57" fill-rule="evenodd"/>
<path d="M137.60,201.38A243.90,243.90 0 0 1 131.41,205.47L125.43,196.12A232.80,232.80 0 0 0 131.34,192.21Z" fill="#715ba6" fill-rule="evenodd"/>
<path d="M141.79,198.45A243.90,243.90 0 0 1 137.09,201.72L130.85,192.54A232.80,232.80 0 0 0 135.33,189.42Z" fill="#da9b5e" fill-rule="evenodd"/>
<path d="M164.92,179.69A243.90,243.90 0 0 1 141.29,198.81L134.86,189.76A232.80,232.80 0 0 0 157.41,171.52Z" fill="#c0452e" fill-rule="evenodd"/>
<path d="M190.46,152.35A243.90,243.90 0 0 1 164.46,180.11L156.98,171.91A232.80,232.80 0 0 0 181.80,145.42Z" fill="#7a7493" fill-rule="evenodd"/>
<path d="M242.35,27.42A243.90,243.90 0 0 1 190.08,152.83L181.43,145.87A232.80,232.80 0 0 0 231.32,26.18Z" fill="#823f28" fill-rule="evenodd"/>
<path d="M91.19,-226.21A243.90,243.90 0 0 1 242.28,28.03L231.26,26.76A232.80,232.80 0 0 0 87.04,-215.92Z" fill="#cb7ba3" fill-rule="evenodd"/>
<path d="M67.66,-234.33A243.90,243.90 0 0 1 91.76,-225.98L87.59,-215.70A232.80,232.80 0 0 0 64.58,-223.66Z" fill="#a31d6a" fill-rule="evenodd"/>
<path d="M58.82,-236.70A243.90,243.90 0 0 1 68.25,-234.16L65.14,-223.50A232.80,232.80 0 0 0 56.15,-225.93Z" fill="#762268" fill-rule="evenodd"/>
<path d="M47.40,-239.25A243.90,243.90 0 0 1 59.42,-236.55L56.71,-225.79A232.80,232.80 0 0 0 45.24,-228.36Z" fill="#62aad3" fill-rule="evenodd"/>
<path d="M36.71,-241.12A243.90,243.90 0 0 1 48.00,-239.13L45.82,-228.25A232.80,232.80 0 0 0 35.04,-230.15Z" fill="#b25b40" fill-rule="evenodd"/>
<path d="M0.00,-243.90A243.90,243.90 0 0 1 37.31,-241.03L35.62,-230.06A232.80,232.80 0 0 0 0.00,-232.80Z" fill="#bfbfbf" fill-rule="evenodd"/>
</g>
<text x="9.7" y="39.8" style="font-family:'Liberation Sans',Arial,sans-serif;font-weight:bold;font-size:43px;fill:#000">A</text>
<text x="720.6" y="39.8" style="font-family:'Liberation Sans',Arial,sans-serif;font-weight:bold;font-size:43px;fill:#000">B</text>
<text x="9.8" y="750.7" style="font-family:'Liberation Sans',Arial,sans-serif;font-weight:bold;font-size:43px;fill:#000">C</text>
<text x="720.6" y="750.8" style="font-family:'Liberation Sans',Arial,sans-serif;font-weight:bold;font-size:43px;fill:#000">D</text>
<rect x="861.0" y="792.70" width="149.90" height="339.11" fill="#c87b57"/>
<rect x="861.0" y="1131.41" width="149.90" height="16.07" fill="#a31d6a"/>
<rect x="861.0" y="1147.07" width="149.90" height="53.88" fill="#762268"/>
<rect x="861.0" y="1200.55" width="149.90" height="61.17" fill="#62aad3"/>
<rect x="861.0" y="1261.32" width="149.90" height="1.75" fill="#b25b40"/>
<rect x="861.0" y="1262.67" width="149.90" height="70.23" fill="#bfbfbf"/>
<rect x="1048.7" y="792.70" width="149.60" height="322.90" fill="#6bc967"/>
<rect x="1048.7" y="1115.20" width="149.60" height="70.09" fill="#c87b57"/>
<rect x="1048.7" y="1184.89" width="149.60" height="37.13" fill="#715ba6"/>
<rect x="1048.7" y="1221.62" width="149.60" height="5.26" fill="#c0452e"/>
<rect x="1048.7" y="1226.48" width="149.60" height="13.36" fill="#823f28"/>
<rect x="1048.7" y="1239.45" width="149.60" height="4.72" fill="#a31d6a"/>
<rect x="1048.7" y="1243.77" width="149.60" height="2.02" fill="#762268"/>
<rect x="1048.7" y="1245.39" width="149.60" height="6.13" fill="#62aad3"/>
<rect x="1048.7" y="1251.11" width="149.60" height="4.78" fill="#b25b40"/>
<rect x="1048.7" y="1255.49" width="149.60" height="77.41" fill="#bfbfbf"/>
<rect x="1236.4" y="792.70" width="149.20" height="7.42" fill="#6bc967"/>
<rect x="1236.4" y="799.72" width="149.20" height="455.25" fill="#dab85e"/>
<rect x="1236.4" y="1254.57" width="149.20" height="5.80" fill="#c87b57"/>
<rect x="1236.4" y="1259.97" width="149.20" height="5.26" fill="#715ba6"/>
<rect x="1236.4" y="1264.83" width="149.20" height="4.18" fill="#da9b5e"/>
<rect x="1236.4" y="1268.62" width="149.20" height="4.18" fill="#c0452e"/>
<rect x="1236.4" y="1272.40" width="149.20" height="3.64" fill="#7a7493"/>
<rect x="1236.4" y="1275.64" width="149.20" height="6.88" fill="#823f28"/>
<rect x="1236.4" y="1282.12" width="149.20" height="24.28" fill="#cb7ba3"/>
<rect x="1236.4" y="1306.00" width="149.20" height="3.80" fill="#a31d6a"/>
<rect x="1236.4" y="1309.40" width="149.20" height="2.72" fill="#62aad3"/>
<rect x="1236.4" y="1311.72" width="149.20" height="21.18" fill="#bfbfbf"/>
<rect x="819.2" y="1331.00" width="4.6" height="3.6" fill="#222"/>
<g transform="translate(816.0,1340.80) scale(0.866,1)"><text x="0" y="0" text-anchor="end" style="font-family:'Liberation Sans',Arial,sans-serif;font-size:24.5px;fill:#4d4d4d">0</text></g>
<rect x="819.2" y="1222.96" width="4.6" height="3.6" fill="#222"/>
<g transform="translate(816.0,1232.76) scale(0.866,1)"><text x="0" y="0" text-anchor="end" style="font-family:'Liberation Sans',Arial,sans-serif;font-size:24.5px;fill:#4d4d4d">20</text></g>
<rect x="819.2" y="1114.92" width="4.6" height="3.6" fill="#222"/>
<g transform="translate(816.0,1124.72) scale(0.866,1)"><text x="0" y="0" text-anchor="end" style="font-family:'Liberation Sans',Arial,sans-serif;font-size:24.5px;fill:#4d4d4d">40</text></g>
<rect x="819.2" y="1006.88" width="4.6" height="3.6" fill="#222"/>
<g transform="translate(816.0,1016.68) scale(0.866,1)"><text x="0" y="0" text-anchor="end" style="font-family:'Liberation Sans',Arial,sans-serif;font-size:24.5px;fill:#4d4d4d">60</text></g>
<rect x="819.2" y="898.84" width="4.6" height="3.6" fill="#222"/>
<g transform="translate(816.0,908.64) scale(0.866,1)"><text x="0" y="0" text-anchor="end" style="font-family:'Liberation Sans',Arial,sans-serif;font-size:24.5px;fill:#4d4d4d">80</text></g>
<rect x="819.2" y="790.80" width="4.6" height="3.6" fill="#222"/>
<g transform="translate(816.0,800.60) scale(0.866,1)"><text x="0" y="0" text-anchor="end" style="font-family:'Liberation Sans',Arial,sans-serif;font-size:24.5px;fill:#4d4d4d">100</text></g>
<rect x="934.55" y="1361.6" width="2.8" height="4.2" fill="#222"/>
<g transform="translate(936.25,1387.9) scale(0.897,1)"><text x="0" y="0" text-anchor="middle" style="font-family:'Liberation Sans',Arial,sans-serif;font-size:24.5px;fill:#4d4d4d">infant meconium</text></g>
<rect x="1122.10" y="1361.6" width="2.8" height="4.2" fill="#222"/>
<g transform="translate(1123.80,1387.9) scale(0.897,1)"><text x="0" y="0" text-anchor="middle" style="font-family:'Liberation Sans',Arial,sans-serif;font-size:24.5px;fill:#4d4d4d">infant fecal 10d</text></g>
<rect x="1309.60" y="1361.6" width="2.8" height="4.2" fill="#222"/>
<g transform="translate(1311.30,1387.9) scale(0.897,1)"><text x="0" y="0" text-anchor="middle" style="font-family:'Liberation Sans',Arial,sans-serif;font-size:24.5px;fill:#4d4d4d">infant fecal 40d</text></g>
<g transform="translate(1419.5,773) scale(0.85,1)"><text x="0" y="0" style="font-family:'Liberation Sans',Arial,sans-serif;font-size:37px;fill:#000">source</text></g>
<rect x="1420.3" y="783.30" width="35.9" height="39.4" fill="#6bc967"/>
<g transform="translate(1471.0,811.10) scale(0.924,1)"><text x="0" y="0" style="font-family:'Liberation Sans',Arial,sans-serif;font-size:22.5px;fill:#000">infant meconium</text></g>
<rect x="1420.3" y="826.79" width="35.9" height="39.4" fill="#dab85e"/>
<g transform="translate(1471.0,854.59) scale(0.924,1)"><text x="0" y="0" style="font-family:'Liberation Sans',Arial,sans-serif;font-size:22.5px;fill:#000">infant fecal 10d</text></g>
<rect x="1420.3" y="870.28" width="35.9" height="39.4" fill="#c87b57"/>
<g transform="translate(1471.0,898.08) scale(0.924,1)"><text x="0" y="0" style="font-family:'Liberation Sans',Arial,sans-serif;font-size:22.5px;fill:#000">maternal feces prenatal</text></g>
<rect x="1420.3" y="913.77" width="35.9" height="39.4" fill="#715ba6"/>
<g transform="translate(1471.0,941.57) scale(0.924,1)"><text x="0" y="0" style="font-family:'Liberation Sans',Arial,sans-serif;font-size:22.5px;fill:#000">maternal feces 10d</text></g>
<rect x="1420.3" y="957.26" width="35.9" height="39.4" fill="#da9b5e"/>
<g transform="translate(1471.0,985.06) scale(0.924,1)"><text x="0" y="0" style="font-family:'Liberation Sans',Arial,sans-serif;font-size:22.5px;fill:#000">maternal feces 40d</text></g>
<rect x="1420.3" y="1000.75" width="35.9" height="39.4" fill="#c0452e"/>
<g transform="translate(1471.0,1028.55) scale(0.924,1)"><text x="0" y="0" style="font-family:'Liberation Sans',Arial,sans-serif;font-size:22.5px;fill:#000">maternal breastmilk 10d</text></g>
<rect x="1420.3" y="1044.24" width="35.9" height="39.4" fill="#7a7493"/>
<g transform="translate(1471.0,1072.04) scale(0.924,1)"><text x="0" y="0" style="font-family:'Liberation Sans',Arial,sans-serif;font-size:22.5px;fill:#000">maternal breastmilk 40d</text></g>
<rect x="1420.3" y="1087.73" width="35.9" height="39.4" fill="#823f28"/>
<g transform="translate(1471.0,1115.53) scale(0.924,1)"><text x="0" y="0" style="font-family:'Liberation Sans',Arial,sans-serif;font-size:22.5px;fill:#000">maternal skin 10d</text></g>
<rect x="1420.3" y="1131.22" width="35.9" height="39.4" fill="#cb7ba3"/>
<g transform="translate(1471.0,1159.02) scale(0.924,1)"><text x="0" y="0" style="font-family:'Liberation Sans',Arial,sans-serif;font-size:22.5px;fill:#000">maternal skin 40d</text></g>
<rect x="1420.3" y="1174.71" width="35.9" height="39.4" fill="#a31d6a"/>
<g transform="translate(1471.0,1202.51) scale(0.924,1)"><text x="0" y="0" style="font-family:'Liberation Sans',Arial,sans-serif;font-size:22.5px;fill:#000">maternal placental delivery</text></g>
<rect x="1420.3" y="1218.20" width="35.9" height="39.4" fill="#762268"/>
<g transform="translate(1471.0,1246.00) scale(0.924,1)"><text x="0" y="0" style="font-family:'Liberation Sans',Arial,sans-serif;font-size:22.5px;fill:#000">maternal umbilical cord blood delivery</text></g>
<rect x="1420.3" y="1261.69" width="35.9" height="39.4" fill="#62aad3"/>
<g transform="translate(1471.0,1289.49) scale(0.924,1)"><text x="0" y="0" style="font-family:'Liberation Sans',Arial,sans-serif;font-size:22.5px;fill:#000">maternal amniotic membrane tissues delivery</text></g>
<rect x="1420.3" y="1305.18" width="35.9" height="39.4" fill="#b25b40"/>
<g transform="translate(1471.0,1332.98) scale(0.924,1)"><text x="0" y="0" style="font-family:'Liberation Sans',Arial,sans-serif;font-size:22.5px;fill:#000">maternal vaginal secretions prenatal</text></g>
<rect x="1420.3" y="1348.67" width="35.9" height="39.4" fill="#bfbfbf"/>
<g transform="translate(1471.0,1376.47) scale(0.924,1)"><text x="0" y="0" style="font-family:'Liberation Sans',Arial,sans-serif;font-size:22.5px;fill:#000">Unknown</text></g>
</svg></body></html>
